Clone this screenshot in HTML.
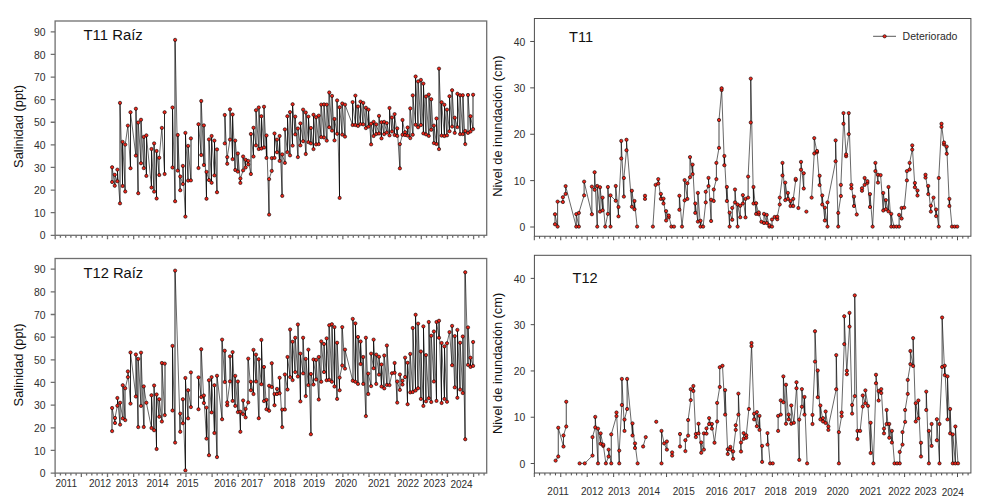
<!DOCTYPE html>
<html lang="es">
<head>
<meta charset="utf-8">
<title>Salinidad y nivel de inundación T11 / T12</title>
<style>
html,body{margin:0;padding:0;background:#fff;}
body{width:1000px;height:499px;overflow:hidden;font-family:"Liberation Sans", sans-serif;}
svg{display:block;}
text{font-family:"Liberation Sans", sans-serif;}
.tl{font-size:10px;fill:#2e2e2e;}
.yt{font-size:10.4px;fill:#2e2e2e;}
.tt{font-size:15.5px;fill:#111;}
.yl{font-size:12.85px;fill:#111;}
.dl{fill:none;stroke:#111;stroke-width:0.7;}
.dg{fill:none;stroke:#0a0a0a;stroke-width:0.62;stroke-linecap:round;}
.vl{fill:none;stroke:#000;stroke-width:0.85;}
.vr{fill:none;stroke:#000;stroke-width:0.72;}
.mk circle{fill:#f0261a;stroke:#000;stroke-width:0.6;}
</style>
</head>
<body>
<svg width="1000" height="499" viewBox="0 0 1000 499">
<rect width="1000" height="499" fill="#fff"/>
<g id="tl">
<path class="dg" d="M112.12 167.25L114.75 185.75M114.75 174.75L117.38 181.25M117.38 169.62L120 203.38M120 102.88L122.62 186M122.62 141.88L125.25 191.5M125.25 144.62L127.88 125.62M127.88 125.62L130.5 168.25M130.5 112.25L135.88 155.62M135.88 108.75L138.25 193.25M138.25 122.5L141 163.25M141 119.75L143.75 168.12M143.75 136.88L146.38 175.88M146.38 135.38L151.5 187.5M151.5 149L154.12 191.62M154.12 143.38L156.62 198.5M156.62 151L159.25 175M159.25 157.75L161.88 127.88M161.88 127.88L164.62 174M172.5 107.5L175.12 201.25M175.12 39.88L177.75 170.62M177.75 135L180.25 190.25M180.25 176.5L182.88 184M182.88 165.88L185.38 216.62M185.38 132.88L188.12 180.62M188.12 145.88L190.88 180.38M198.5 124.25L201.25 155M201.25 101L203.88 165M203.88 125.38L206.5 198.75M206.5 171.88L209 180M209 139.38L211.62 182.75M211.62 136L214.38 175.38M214.38 140.62L217 192.25M224.75 115L227.25 163.75M227.25 157.12L230 139.62M230 109.38L232.62 159.12M232.62 114.5L235.25 170M235.25 140.62L237.88 171.62M237.88 153.5L240.38 182.88M240.38 178.5L243.12 170.38M243.12 156.5L245.62 167.5M245.62 159.75L248.25 164.38M248.25 160.88L250.88 174M250.88 134L253.5 156.5M253.5 127.75L256 145.38M256 110.25L258.75 149M258.75 107.5L261.38 148.5M261.38 116.25L264 147.5M264 106.75L266.5 157.88M266.5 135.5L269.12 214.62M269.12 179.12L271.75 170.88M271.75 158.12L274.5 157.88M274.5 133.5L277 152.25M277 139.62L279.62 160.88M279.62 136L282.25 195.88M282.25 154.38L284.88 162.88M284.88 129.38L287.38 152.12M287.38 116.25L290 155.38M290 112.12L292.62 145.62M292.62 104.25L295.25 134.38M295.25 116.62L297.88 157.12M297.88 128.5L300.38 145.38M300.38 123.38L303.12 141.25M303.12 109.62L305.75 154M305.75 112.5L308.38 142.12M308.38 116.62L310.88 143.38M310.88 128L313.5 149.12M313.5 114.75L316.12 144.38M316.12 117.25L318.75 144.12M318.75 115.62L321.25 137.12M321.25 104.62L324 137.5M324 104.38L326.75 140.62M326.75 104.62L329.25 127.25M329.25 92.5L332 130.62M332 95.88L334.5 140.38M334.5 119L337.12 133.75M337.12 100.38L339.62 197.88M339.62 107.25L342.25 134.62M342.25 103.5L345 136.62M345 104.62L352.62 125M352.62 102.12L355.38 125M355.38 95.62L358 125.88M358 106.5L360.5 124.12M360.5 101.62L363.25 124.38M363.25 102.88L365.88 128.12M365.88 107.75L368.5 126.62M368.5 109.62L371.12 144.38M371.12 123.75L373.62 136M373.62 121.88L376.25 134M376.25 124.38L379 133.5M379 115.88L381.5 138.38M381.5 122.25L384.12 134.12M384.12 121.88L386.75 132.5M386.75 123.12L389.5 135.38M389.5 108L392 131.5M392 117.5L394.62 135M394.62 114.12L397.25 135.88M397.25 128.38L399.88 168.38M399.88 144.12L402.5 134.75M402.5 120L405.12 135M405.12 132.12L407.62 135.62M407.62 127.5L410.25 138.12M410.25 108.38L412.75 134.75M412.75 95.38L415.62 124.75M415.62 76.5L418.12 127.25M418.12 81.38L420.88 125M420.88 79.88L423.38 133.38M423.38 83.62L426 134.38M426 96.5L428.75 135.88M428.75 94.62L431.25 129.75M431.25 99.25L433.88 143.12M433.88 125.62L436.5 144M436.5 118.5L439 149.12M439 68.62L441.62 135.62M441.62 102.25L444.38 136M444.38 104.75L447 135.38M447 109.62L449.5 131.25M449.5 96.25L452.12 126.62M452.12 90.25L454.75 132.88M454.75 117.75L457.38 127.12M457.38 93.75L460.12 134.12M460.12 95.25L462.75 134.12M462.75 95.25L465.25 144.12M465.25 131L468 132.88M468 95L470.5 131.5M470.5 116.25L473.12 129.12"/>
<path class="vl" d="M112 182V167.25M115 185.75V174.75M117.5 181.25V169.62M120 203.38V102.88M122.5 186V141.88M125 191.5V144.62M130.5 168.25V112.25M136 155.62V108.75M138 193.25V122.5M141 163.25V119.75M144 168.12V136.88M146.5 175.88V135.38M151.5 187.5V149M154 191.62V143.38M156.5 198.5V151M159 175V157.75M164.5 174V112.25M172.5 167.5V107.5M175 201.25V39.88M178 170.62V135M180 190.25V176.5M183 184V165.88M185.5 216.62V132.88M188 180.62V145.88M191 180.38V138.38M198.5 168V124.25M201 155V101M204 165V125.38M206.5 198.75V171.88M209 180V139.38M211.5 182.75V136M214.5 175.38V140.62M217 192.25V149.38M225 143.38V115M227 163.75V157.12M230 139.62V109.38M232.5 159.12V114.5M235 170V140.62M238 171.62V153.5M240.5 182.88V178.5M243 170.38V156.5M245.5 167.5V159.75M248 164.38V160.88M251 174V134M253.5 156.5V127.75M256 145.38V110.25M259 149V107.5M261.5 148.5V116.25M264 147.5V106.75M266.5 157.88V135.5M269 214.62V179.12M272 170.88V158.12M274.5 157.88V133.5M277 152.25V139.62M279.5 160.88V136M282 195.88V154.38M285 162.88V129.38M287.5 152.12V116.25M290 155.38V112.12M292.5 145.62V104.25M295 134.38V116.62M298 157.12V128.5M300.5 145.38V123.38M303 141.25V109.62M306 154V112.5M308.5 142.12V116.62M311 143.38V128M313.5 149.12V114.75M316 144.38V117.25M319 144.12V115.62M321 137.12V104.62M324 137.5V104.38M327 140.62V104.62M329 127.25V92.5M332 130.62V95.88M334.5 140.38V119M337 133.75V100.38M339.5 197.88V107.25M342 134.62V103.5M345 136.62V104.62M352.5 125V102.12M355.5 125V95.62M358 125.88V106.5M360.5 124.12V101.62M363 124.38V102.88M366 128.12V107.75M368.5 126.62V109.62M371 144.38V123.75M373.5 136V121.88M376 134V124.38M379 133.5V115.88M381.5 138.38V122.25M384 134.12V121.88M387 132.5V123.12M389.5 135.38V108M392 131.5V117.5M394.5 135V114.12M397 135.88V128.38M400 168.38V144.12M402.5 134.75V120M405 135V132.12M407.5 135.62V127.5M410 138.12V108.38M413 134.75V95.38M415.5 124.75V76.5M418 127.25V81.38M421 125V79.88M423.5 133.38V83.62M426 134.38V96.5M429 135.88V94.62M431 129.75V99.25M434 143.12V125.62M436.5 144V118.5M439 149.12V68.62M441.5 135.62V102.25M444.5 136V104.75M447 135.38V109.62M449.5 131.25V96.25M452 126.62V90.25M455 132.88V117.75M457.5 127.12V93.75M460 134.12V95.25M463 134.12V95.25M465 144.12V131M468 132.88V95M470.5 131.5V116.25M473 129.12V94.75"/>
<g class="mk"><circle cx="112.12" cy="182" r="1.65"/><circle cx="112.12" cy="167.25" r="1.65"/><circle cx="114.75" cy="185.75" r="1.65"/><circle cx="114.75" cy="174.75" r="1.65"/><circle cx="117.38" cy="181.25" r="1.65"/><circle cx="117.38" cy="169.62" r="1.65"/><circle cx="120" cy="203.38" r="1.65"/><circle cx="120" cy="102.88" r="1.65"/><circle cx="122.62" cy="186" r="1.65"/><circle cx="122.62" cy="141.88" r="1.65"/><circle cx="125.25" cy="191.5" r="1.65"/><circle cx="125.25" cy="144.62" r="1.65"/><circle cx="127.88" cy="125.62" r="1.65"/><circle cx="130.5" cy="168.25" r="1.65"/><circle cx="130.5" cy="112.25" r="1.65"/><circle cx="135.88" cy="155.62" r="1.65"/><circle cx="135.88" cy="108.75" r="1.65"/><circle cx="138.25" cy="193.25" r="1.65"/><circle cx="138.25" cy="122.5" r="1.65"/><circle cx="141" cy="163.25" r="1.65"/><circle cx="141" cy="119.75" r="1.65"/><circle cx="143.75" cy="168.12" r="1.65"/><circle cx="143.75" cy="136.88" r="1.65"/><circle cx="146.38" cy="175.88" r="1.65"/><circle cx="146.38" cy="135.38" r="1.65"/><circle cx="151.5" cy="187.5" r="1.65"/><circle cx="151.5" cy="149" r="1.65"/><circle cx="154.12" cy="191.62" r="1.65"/><circle cx="154.12" cy="143.38" r="1.65"/><circle cx="156.62" cy="198.5" r="1.65"/><circle cx="156.62" cy="151" r="1.65"/><circle cx="159.25" cy="175" r="1.65"/><circle cx="159.25" cy="157.75" r="1.65"/><circle cx="161.88" cy="127.88" r="1.65"/><circle cx="164.62" cy="174" r="1.65"/><circle cx="164.62" cy="112.25" r="1.65"/><circle cx="172.5" cy="167.5" r="1.65"/><circle cx="172.5" cy="107.5" r="1.65"/><circle cx="175.12" cy="201.25" r="1.65"/><circle cx="175.12" cy="39.88" r="1.65"/><circle cx="177.75" cy="170.62" r="1.65"/><circle cx="177.75" cy="135" r="1.65"/><circle cx="180.25" cy="190.25" r="1.65"/><circle cx="180.25" cy="176.5" r="1.65"/><circle cx="182.88" cy="184" r="1.65"/><circle cx="182.88" cy="165.88" r="1.65"/><circle cx="185.38" cy="216.62" r="1.65"/><circle cx="185.38" cy="132.88" r="1.65"/><circle cx="188.12" cy="180.62" r="1.65"/><circle cx="188.12" cy="145.88" r="1.65"/><circle cx="190.88" cy="180.38" r="1.65"/><circle cx="190.88" cy="138.38" r="1.65"/><circle cx="198.5" cy="168" r="1.65"/><circle cx="198.5" cy="124.25" r="1.65"/><circle cx="201.25" cy="155" r="1.65"/><circle cx="201.25" cy="101" r="1.65"/><circle cx="203.88" cy="165" r="1.65"/><circle cx="203.88" cy="125.38" r="1.65"/><circle cx="206.5" cy="198.75" r="1.65"/><circle cx="206.5" cy="171.88" r="1.65"/><circle cx="209" cy="180" r="1.65"/><circle cx="209" cy="139.38" r="1.65"/><circle cx="211.62" cy="182.75" r="1.65"/><circle cx="211.62" cy="136" r="1.65"/><circle cx="214.38" cy="175.38" r="1.65"/><circle cx="214.38" cy="140.62" r="1.65"/><circle cx="217" cy="192.25" r="1.65"/><circle cx="217" cy="149.38" r="1.65"/><circle cx="224.75" cy="143.38" r="1.65"/><circle cx="224.75" cy="115" r="1.65"/><circle cx="227.25" cy="163.75" r="1.65"/><circle cx="227.25" cy="157.12" r="1.65"/><circle cx="230" cy="139.62" r="1.65"/><circle cx="230" cy="109.38" r="1.65"/><circle cx="232.62" cy="159.12" r="1.65"/><circle cx="232.62" cy="114.5" r="1.65"/><circle cx="235.25" cy="170" r="1.65"/><circle cx="235.25" cy="140.62" r="1.65"/><circle cx="237.88" cy="171.62" r="1.65"/><circle cx="237.88" cy="153.5" r="1.65"/><circle cx="240.38" cy="182.88" r="1.65"/><circle cx="240.38" cy="178.5" r="1.65"/><circle cx="243.12" cy="170.38" r="1.65"/><circle cx="243.12" cy="156.5" r="1.65"/><circle cx="245.62" cy="167.5" r="1.65"/><circle cx="245.62" cy="159.75" r="1.65"/><circle cx="248.25" cy="164.38" r="1.65"/><circle cx="248.25" cy="160.88" r="1.65"/><circle cx="250.88" cy="174" r="1.65"/><circle cx="250.88" cy="134" r="1.65"/><circle cx="253.5" cy="156.5" r="1.65"/><circle cx="253.5" cy="127.75" r="1.65"/><circle cx="256" cy="145.38" r="1.65"/><circle cx="256" cy="110.25" r="1.65"/><circle cx="258.75" cy="149" r="1.65"/><circle cx="258.75" cy="107.5" r="1.65"/><circle cx="261.38" cy="148.5" r="1.65"/><circle cx="261.38" cy="116.25" r="1.65"/><circle cx="264" cy="147.5" r="1.65"/><circle cx="264" cy="106.75" r="1.65"/><circle cx="266.5" cy="157.88" r="1.65"/><circle cx="266.5" cy="135.5" r="1.65"/><circle cx="269.12" cy="214.62" r="1.65"/><circle cx="269.12" cy="179.12" r="1.65"/><circle cx="271.75" cy="170.88" r="1.65"/><circle cx="271.75" cy="158.12" r="1.65"/><circle cx="274.5" cy="157.88" r="1.65"/><circle cx="274.5" cy="133.5" r="1.65"/><circle cx="277" cy="152.25" r="1.65"/><circle cx="277" cy="139.62" r="1.65"/><circle cx="279.62" cy="160.88" r="1.65"/><circle cx="279.62" cy="136" r="1.65"/><circle cx="282.25" cy="195.88" r="1.65"/><circle cx="282.25" cy="154.38" r="1.65"/><circle cx="284.88" cy="162.88" r="1.65"/><circle cx="284.88" cy="129.38" r="1.65"/><circle cx="287.38" cy="152.12" r="1.65"/><circle cx="287.38" cy="116.25" r="1.65"/><circle cx="290" cy="155.38" r="1.65"/><circle cx="290" cy="112.12" r="1.65"/><circle cx="292.62" cy="145.62" r="1.65"/><circle cx="292.62" cy="104.25" r="1.65"/><circle cx="295.25" cy="134.38" r="1.65"/><circle cx="295.25" cy="116.62" r="1.65"/><circle cx="297.88" cy="157.12" r="1.65"/><circle cx="297.88" cy="128.5" r="1.65"/><circle cx="300.38" cy="145.38" r="1.65"/><circle cx="300.38" cy="123.38" r="1.65"/><circle cx="303.12" cy="141.25" r="1.65"/><circle cx="303.12" cy="109.62" r="1.65"/><circle cx="305.75" cy="154" r="1.65"/><circle cx="305.75" cy="112.5" r="1.65"/><circle cx="308.38" cy="142.12" r="1.65"/><circle cx="308.38" cy="116.62" r="1.65"/><circle cx="310.88" cy="143.38" r="1.65"/><circle cx="310.88" cy="128" r="1.65"/><circle cx="313.5" cy="149.12" r="1.65"/><circle cx="313.5" cy="114.75" r="1.65"/><circle cx="316.12" cy="144.38" r="1.65"/><circle cx="316.12" cy="117.25" r="1.65"/><circle cx="318.75" cy="144.12" r="1.65"/><circle cx="318.75" cy="115.62" r="1.65"/><circle cx="321.25" cy="137.12" r="1.65"/><circle cx="321.25" cy="104.62" r="1.65"/><circle cx="324" cy="137.5" r="1.65"/><circle cx="324" cy="104.38" r="1.65"/><circle cx="326.75" cy="140.62" r="1.65"/><circle cx="326.75" cy="104.62" r="1.65"/><circle cx="329.25" cy="127.25" r="1.65"/><circle cx="329.25" cy="92.5" r="1.65"/><circle cx="332" cy="130.62" r="1.65"/><circle cx="332" cy="95.88" r="1.65"/><circle cx="334.5" cy="140.38" r="1.65"/><circle cx="334.5" cy="119" r="1.65"/><circle cx="337.12" cy="133.75" r="1.65"/><circle cx="337.12" cy="100.38" r="1.65"/><circle cx="339.62" cy="197.88" r="1.65"/><circle cx="339.62" cy="107.25" r="1.65"/><circle cx="342.25" cy="134.62" r="1.65"/><circle cx="342.25" cy="103.5" r="1.65"/><circle cx="345" cy="136.62" r="1.65"/><circle cx="345" cy="104.62" r="1.65"/><circle cx="352.62" cy="125" r="1.65"/><circle cx="352.62" cy="102.12" r="1.65"/><circle cx="355.38" cy="125" r="1.65"/><circle cx="355.38" cy="95.62" r="1.65"/><circle cx="358" cy="125.88" r="1.65"/><circle cx="358" cy="106.5" r="1.65"/><circle cx="360.5" cy="124.12" r="1.65"/><circle cx="360.5" cy="101.62" r="1.65"/><circle cx="363.25" cy="124.38" r="1.65"/><circle cx="363.25" cy="102.88" r="1.65"/><circle cx="365.88" cy="128.12" r="1.65"/><circle cx="365.88" cy="107.75" r="1.65"/><circle cx="368.5" cy="126.62" r="1.65"/><circle cx="368.5" cy="109.62" r="1.65"/><circle cx="371.12" cy="144.38" r="1.65"/><circle cx="371.12" cy="123.75" r="1.65"/><circle cx="373.62" cy="136" r="1.65"/><circle cx="373.62" cy="121.88" r="1.65"/><circle cx="376.25" cy="134" r="1.65"/><circle cx="376.25" cy="124.38" r="1.65"/><circle cx="379" cy="133.5" r="1.65"/><circle cx="379" cy="115.88" r="1.65"/><circle cx="381.5" cy="138.38" r="1.65"/><circle cx="381.5" cy="122.25" r="1.65"/><circle cx="384.12" cy="134.12" r="1.65"/><circle cx="384.12" cy="121.88" r="1.65"/><circle cx="386.75" cy="132.5" r="1.65"/><circle cx="386.75" cy="123.12" r="1.65"/><circle cx="389.5" cy="135.38" r="1.65"/><circle cx="389.5" cy="108" r="1.65"/><circle cx="392" cy="131.5" r="1.65"/><circle cx="392" cy="117.5" r="1.65"/><circle cx="394.62" cy="135" r="1.65"/><circle cx="394.62" cy="114.12" r="1.65"/><circle cx="397.25" cy="135.88" r="1.65"/><circle cx="397.25" cy="128.38" r="1.65"/><circle cx="399.88" cy="168.38" r="1.65"/><circle cx="399.88" cy="144.12" r="1.65"/><circle cx="402.5" cy="134.75" r="1.65"/><circle cx="402.5" cy="120" r="1.65"/><circle cx="405.12" cy="135" r="1.65"/><circle cx="405.12" cy="132.12" r="1.65"/><circle cx="407.62" cy="135.62" r="1.65"/><circle cx="407.62" cy="127.5" r="1.65"/><circle cx="410.25" cy="138.12" r="1.65"/><circle cx="410.25" cy="108.38" r="1.65"/><circle cx="412.75" cy="134.75" r="1.65"/><circle cx="412.75" cy="95.38" r="1.65"/><circle cx="415.62" cy="124.75" r="1.65"/><circle cx="415.62" cy="76.5" r="1.65"/><circle cx="418.12" cy="127.25" r="1.65"/><circle cx="418.12" cy="81.38" r="1.65"/><circle cx="420.88" cy="125" r="1.65"/><circle cx="420.88" cy="79.88" r="1.65"/><circle cx="423.38" cy="133.38" r="1.65"/><circle cx="423.38" cy="83.62" r="1.65"/><circle cx="426" cy="134.38" r="1.65"/><circle cx="426" cy="96.5" r="1.65"/><circle cx="428.75" cy="135.88" r="1.65"/><circle cx="428.75" cy="94.62" r="1.65"/><circle cx="431.25" cy="129.75" r="1.65"/><circle cx="431.25" cy="99.25" r="1.65"/><circle cx="433.88" cy="143.12" r="1.65"/><circle cx="433.88" cy="125.62" r="1.65"/><circle cx="436.5" cy="144" r="1.65"/><circle cx="436.5" cy="118.5" r="1.65"/><circle cx="439" cy="149.12" r="1.65"/><circle cx="439" cy="68.62" r="1.65"/><circle cx="441.62" cy="135.62" r="1.65"/><circle cx="441.62" cy="102.25" r="1.65"/><circle cx="444.38" cy="136" r="1.65"/><circle cx="444.38" cy="104.75" r="1.65"/><circle cx="447" cy="135.38" r="1.65"/><circle cx="447" cy="109.62" r="1.65"/><circle cx="449.5" cy="131.25" r="1.65"/><circle cx="449.5" cy="96.25" r="1.65"/><circle cx="452.12" cy="126.62" r="1.65"/><circle cx="452.12" cy="90.25" r="1.65"/><circle cx="454.75" cy="132.88" r="1.65"/><circle cx="454.75" cy="117.75" r="1.65"/><circle cx="457.38" cy="127.12" r="1.65"/><circle cx="457.38" cy="93.75" r="1.65"/><circle cx="460.12" cy="134.12" r="1.65"/><circle cx="460.12" cy="95.25" r="1.65"/><circle cx="462.75" cy="134.12" r="1.65"/><circle cx="462.75" cy="95.25" r="1.65"/><circle cx="465.25" cy="144.12" r="1.65"/><circle cx="465.25" cy="131" r="1.65"/><circle cx="468" cy="132.88" r="1.65"/><circle cx="468" cy="95" r="1.65"/><circle cx="470.5" cy="131.5" r="1.65"/><circle cx="470.5" cy="116.25" r="1.65"/><circle cx="473.12" cy="129.12" r="1.65"/><circle cx="473.12" cy="94.75" r="1.65"/></g>
<rect x="55.1" y="21" width="431.6" height="214.3" fill="none" stroke="#6f6f6f" stroke-width="1.3"/>
<text class="yt" x="45.6" y="239.45" text-anchor="end">0</text>
<text class="yt" x="45.6" y="216.84" text-anchor="end">10</text>
<text class="yt" x="45.6" y="194.23" text-anchor="end">20</text>
<text class="yt" x="45.6" y="171.62" text-anchor="end">30</text>
<text class="yt" x="45.6" y="149.01" text-anchor="end">40</text>
<text class="yt" x="45.6" y="126.4" text-anchor="end">50</text>
<text class="yt" x="45.6" y="103.79" text-anchor="end">60</text>
<text class="yt" x="45.6" y="81.18" text-anchor="end">70</text>
<text class="yt" x="45.6" y="58.57" text-anchor="end">80</text>
<text class="yt" x="45.6" y="35.96" text-anchor="end">90</text>
<path d="M50.7 235.3H55.1M50.7 212.69H55.1M50.7 190.08H55.1M50.7 167.47H55.1M50.7 144.86H55.1M50.7 122.25H55.1M50.7 99.64H55.1M50.7 77.03H55.1M50.7 54.42H55.1M50.7 31.81H55.1M55.2 235.3V239.3M60.43 235.3V237.7M65.66 235.3V237.7M70.89 235.3V237.7M76.12 235.3V237.7M81.35 235.3V239.3M86.58 235.3V237.7M91.81 235.3V237.7M97.04 235.3V237.7M102.27 235.3V237.7M107.5 235.3V239.3M112.73 235.3V237.7M117.96 235.3V237.7M123.19 235.3V237.7M128.42 235.3V237.7M133.65 235.3V239.3M138.88 235.3V237.7M144.11 235.3V237.7M149.34 235.3V237.7M154.57 235.3V237.7M159.8 235.3V239.3M165.03 235.3V237.7M170.26 235.3V237.7M175.49 235.3V237.7M180.72 235.3V237.7M185.95 235.3V239.3M191.18 235.3V237.7M196.41 235.3V237.7M201.64 235.3V237.7M206.87 235.3V237.7M212.1 235.3V239.3M217.33 235.3V237.7M222.56 235.3V237.7M227.79 235.3V237.7M233.02 235.3V237.7M238.25 235.3V239.3M243.48 235.3V237.7M248.71 235.3V237.7M253.94 235.3V237.7M259.17 235.3V237.7M264.4 235.3V239.3M269.63 235.3V237.7M274.86 235.3V237.7M280.09 235.3V237.7M285.32 235.3V237.7M290.55 235.3V239.3M295.78 235.3V237.7M301.01 235.3V237.7M306.24 235.3V237.7M311.47 235.3V237.7M316.7 235.3V239.3M321.93 235.3V237.7M327.16 235.3V237.7M332.39 235.3V237.7M337.62 235.3V237.7M342.85 235.3V239.3M348.08 235.3V237.7M353.31 235.3V237.7M358.54 235.3V237.7M363.77 235.3V237.7M369 235.3V239.3M374.23 235.3V237.7M379.46 235.3V237.7M384.69 235.3V237.7M389.92 235.3V237.7M395.15 235.3V239.3M400.38 235.3V237.7M405.61 235.3V237.7M410.84 235.3V237.7M416.07 235.3V237.7M421.3 235.3V239.3M426.53 235.3V237.7M431.76 235.3V237.7M436.99 235.3V237.7M442.22 235.3V237.7M447.45 235.3V239.3M452.68 235.3V237.7M457.91 235.3V237.7M463.14 235.3V237.7M468.37 235.3V237.7M473.6 235.3V239.3M478.83 235.3V237.7M484.06 235.3V237.7" stroke="#6f6f6f" stroke-width="1.3" fill="none"/>
<text class="tt" transform="translate(83.5,40.2) scale(0.96,1)">T11 Raíz</text>
<text class="yl" transform="translate(23.3,126.5) rotate(-90)" text-anchor="middle">Salinidad (ppt)</text>
</g>
<g id="bl">
<path class="dg" d="M112.12 408L115 423M115 418L117.38 405.75M117.38 398L120.12 424.62M120.12 402.75L122.75 418.38M122.75 385.25L125.25 420.12M125.25 388.25L127.88 377.12M127.88 371.38L130.5 403.62M130.5 352.5L135.88 396.5M135.88 354.5L138.25 427.12M138.25 358.88L141 405.88M141 352.62L143.75 427M143.75 386.38L146.38 402.75M146.38 402.75L151.5 428M151.5 395.25L154.12 430.25M154.12 385.5L156.62 449M156.62 394.5L159.25 416.75M159.25 399.25L161.88 421.5M161.88 363L164.75 415.12M172.5 345.88L175.12 442.62M175.12 270.62L180.25 431.75M180.25 413.62L182.88 423.25M182.88 399.25L185.38 470.38M185.38 378L188.12 418.38M188.12 390.25L190.88 407.12M198.5 377.38L201.25 397M201.25 349.25L203.88 403M203.88 395.5L206.5 438.62M206.5 407.62L209 455.25M209 380.25L211.62 412.38M211.62 377.12L214.38 433M214.38 385.25L217 457.12M217 375.75L222.12 419.25M222.12 339.62L224.75 382M224.75 350.75L227.25 405.25M227.25 402.38L230 381.38M230 356.38L232.62 400.88M232.62 352.12L235.25 405.88M235.25 375.88L237.88 412.12M237.88 381.5L240.38 431.75M240.38 411.75L243.12 414.25M243.12 400.5L245.62 417.38M245.62 408.88L248.25 402.38M248.25 358.62L250.88 390.25M250.88 381.75L253.5 394M253.5 349.88L256 381.5M256 354.62L258.75 418.25M258.75 359.25L261.38 384.25M261.38 339.88L264 401.12M264 367L266.5 409.25M266.5 399.88L269.12 410.75M269.12 385.75L271.75 387M271.75 363.25L274.5 405.25M274.5 394L277 394M277 388.88L279.62 393.25M279.62 377.75L282.25 427.12M282.25 409.62L284.88 409.5M284.88 374.5L287.5 389.5M287.5 357L290.12 377.12M290.12 329.5L292.62 380.12M292.62 341.75L295.25 372.12M295.25 337.75L297.88 376.5M297.88 324.5L300.38 401.38M300.38 353.62L303.12 373.38M303.12 337.75L305.75 396.12M305.75 358.88L308.38 385.12M308.38 349.62L310.88 434.25M310.88 374L313.5 384.5M313.5 359.5L316.12 379.5M316.12 359.88L318.75 399.5M318.75 357L321.25 381.75M321.25 341.38L324 372M324 344L326.62 380.25M326.62 338.38L329.25 379.88M329.25 325.25L331.88 381.75M331.88 324.25L334.5 386.5M334.5 327.12L337.12 398.88M337.12 342.75L339.62 390.25M339.62 377.62L342.25 365.5M342.25 327.12L345 368.62M345 349.62L352.75 380.75M352.75 318.88L355.38 381.75M355.38 323.38L358 383.88M358 337L360.62 364M360.62 341.5L363.25 383.88M363.25 357L365.88 416.12M365.88 337.75L368.25 394M368.25 373.62L371.12 386.12M371.12 353.62L373.62 368.25M373.62 339.62L376.25 383.88M376.25 354.62L379 374.62M379 356.75L381.5 386.5M381.5 364.5L384.25 388.38M384.25 355.5L386.88 384.88M386.88 345.5L389.5 385.12M389.5 385.12L392 373.25M392 373.25L394.62 372.75M394.62 363L397.25 402.62M397.25 381.5L399.88 389.88M399.88 374.5L402.5 384.5M402.5 380.75L405.12 377M405.12 357.62L407.62 404.25M407.62 362.75L410.25 392.38M410.25 353.88L412.75 392M412.75 328L415.62 390.5M415.62 314.75L418.12 388.25M418.12 323.62L420.88 398.88M420.88 351.5L423.38 405.88M423.38 326.38L426 401.38M426 355.12L428.75 398.25M428.75 322L431.25 402M431.25 335.75L433.88 381.5M433.88 331.5L436.5 400.88M436.5 322L439 337.75M439 320.75L441.62 403M441.62 343L444.38 398.88M444.38 346.38L447 401.75M447 343.25L449.5 332.12M449.5 332.12L452.12 365.25M452.12 325.88L454.75 387.38M454.75 336.12L457.38 397.75M457.38 329.88L460.12 389.5M460.12 342.75L462.75 393M462.75 336.5L465.25 439.25M465.25 272.25L468 364.88M468 327.38L470.5 366.88M470.5 357.75L473.12 365.88"/>
<path class="vl" d="M112 431.12V408M115 423V418M117.5 405.75V398M120 424.62V402.75M123 418.38V385.25M125 420.12V388.25M128 377.12V371.38M130.5 403.62V352.5M136 396.5V354.5M138 427.12V358.88M141 405.88V352.62M144 427V386.38M151.5 428V395.25M154 430.25V385.5M156.5 449V394.5M159 416.75V399.25M162 421.5V363M165 415.12V363.62M172.5 410.5V345.88M175 442.62V270.62M180 431.75V413.62M183 423.25V399.25M185.5 470.38V378M188 418.38V390.25M191 407.12V372.38M198.5 409.25V377.38M201 397V349.25M204 403V395.5M206.5 438.62V407.62M209 455.25V380.25M211.5 412.38V377.12M214.5 433V385.25M217 457.12V375.75M222 419.25V339.62M225 382V350.75M227 405.25V402.38M230 381.38V356.38M232.5 400.88V352.12M235 405.88V375.88M238 412.12V381.5M240.5 431.75V411.75M243 414.25V400.5M245.5 417.38V408.88M248 402.38V358.62M251 390.25V381.75M253.5 394V349.88M256 381.5V354.62M259 418.25V359.25M261.5 384.25V339.88M264 401.12V367M266.5 409.25V399.88M269 410.75V385.75M272 387V363.25M274.5 405.25V394M277 394V388.88M279.5 393.25V377.75M282 427.12V409.62M285 409.5V374.5M287.5 389.5V357M290 377.12V329.5M292.5 380.12V341.75M295 372.12V337.75M298 376.5V324.5M300.5 401.38V353.62M303 373.38V337.75M306 396.12V358.88M308.5 385.12V349.62M311 434.25V374M313.5 384.5V359.5M316 379.5V359.88M319 399.5V357M321 381.75V341.38M324 372V344M326.5 380.25V338.38M329 379.88V325.25M332 381.75V324.25M334.5 386.5V327.12M337 398.88V342.75M339.5 390.25V377.62M342 365.5V327.12M345 368.62V349.62M353 380.75V318.88M355.5 381.75V323.38M358 383.88V337M360.5 364V341.5M363 383.88V357M366 416.12V337.75M368 394V373.62M371 386.12V353.62M373.5 368.25V339.62M376 383.88V354.62M379 374.62V356.75M381.5 386.5V364.5M384 388.38V355.5M387 384.88V345.5M394.5 372.75V363M397 402.62V381.5M400 389.88V374.5M402.5 384.5V380.75M405 377V357.62M407.5 404.25V362.75M410 392.38V353.88M413 392V328M415.5 390.5V314.75M418 388.25V323.62M421 398.88V351.5M423.5 405.88V326.38M426 401.38V355.12M429 398.25V322M431 402V335.75M434 381.5V331.5M436.5 400.88V322M439 337.75V320.75M441.5 403V343M444.5 398.88V346.38M447 401.75V343.25M452 365.25V325.88M455 387.38V336.12M457.5 397.75V329.88M460 389.5V342.75M463 393V336.5M465 439.25V272.25M468 364.88V327.38M470.5 366.88V357.75M473 365.88V342"/>
<g class="mk"><circle cx="112.12" cy="431.12" r="1.65"/><circle cx="112.12" cy="408" r="1.65"/><circle cx="115" cy="423" r="1.65"/><circle cx="115" cy="418" r="1.65"/><circle cx="117.38" cy="405.75" r="1.65"/><circle cx="117.38" cy="398" r="1.65"/><circle cx="120.12" cy="424.62" r="1.65"/><circle cx="120.12" cy="402.75" r="1.65"/><circle cx="122.75" cy="418.38" r="1.65"/><circle cx="122.75" cy="385.25" r="1.65"/><circle cx="125.25" cy="420.12" r="1.65"/><circle cx="125.25" cy="388.25" r="1.65"/><circle cx="127.88" cy="377.12" r="1.65"/><circle cx="127.88" cy="371.38" r="1.65"/><circle cx="130.5" cy="403.62" r="1.65"/><circle cx="130.5" cy="352.5" r="1.65"/><circle cx="135.88" cy="396.5" r="1.65"/><circle cx="135.88" cy="354.5" r="1.65"/><circle cx="138.25" cy="427.12" r="1.65"/><circle cx="138.25" cy="358.88" r="1.65"/><circle cx="141" cy="405.88" r="1.65"/><circle cx="141" cy="352.62" r="1.65"/><circle cx="143.75" cy="427" r="1.65"/><circle cx="143.75" cy="386.38" r="1.65"/><circle cx="146.38" cy="402.75" r="1.65"/><circle cx="151.5" cy="428" r="1.65"/><circle cx="151.5" cy="395.25" r="1.65"/><circle cx="154.12" cy="430.25" r="1.65"/><circle cx="154.12" cy="385.5" r="1.65"/><circle cx="156.62" cy="449" r="1.65"/><circle cx="156.62" cy="394.5" r="1.65"/><circle cx="159.25" cy="416.75" r="1.65"/><circle cx="159.25" cy="399.25" r="1.65"/><circle cx="161.88" cy="421.5" r="1.65"/><circle cx="161.88" cy="363" r="1.65"/><circle cx="164.75" cy="415.12" r="1.65"/><circle cx="164.75" cy="363.62" r="1.65"/><circle cx="172.5" cy="410.5" r="1.65"/><circle cx="172.5" cy="345.88" r="1.65"/><circle cx="175.12" cy="442.62" r="1.65"/><circle cx="175.12" cy="270.62" r="1.65"/><circle cx="180.25" cy="431.75" r="1.65"/><circle cx="180.25" cy="413.62" r="1.65"/><circle cx="182.88" cy="423.25" r="1.65"/><circle cx="182.88" cy="399.25" r="1.65"/><circle cx="185.38" cy="470.38" r="1.65"/><circle cx="185.38" cy="378" r="1.65"/><circle cx="188.12" cy="418.38" r="1.65"/><circle cx="188.12" cy="390.25" r="1.65"/><circle cx="190.88" cy="407.12" r="1.65"/><circle cx="190.88" cy="372.38" r="1.65"/><circle cx="198.5" cy="409.25" r="1.65"/><circle cx="198.5" cy="377.38" r="1.65"/><circle cx="201.25" cy="397" r="1.65"/><circle cx="201.25" cy="349.25" r="1.65"/><circle cx="203.88" cy="403" r="1.65"/><circle cx="203.88" cy="395.5" r="1.65"/><circle cx="206.5" cy="438.62" r="1.65"/><circle cx="206.5" cy="407.62" r="1.65"/><circle cx="209" cy="455.25" r="1.65"/><circle cx="209" cy="380.25" r="1.65"/><circle cx="211.62" cy="412.38" r="1.65"/><circle cx="211.62" cy="377.12" r="1.65"/><circle cx="214.38" cy="433" r="1.65"/><circle cx="214.38" cy="385.25" r="1.65"/><circle cx="217" cy="457.12" r="1.65"/><circle cx="217" cy="375.75" r="1.65"/><circle cx="222.12" cy="419.25" r="1.65"/><circle cx="222.12" cy="339.62" r="1.65"/><circle cx="224.75" cy="382" r="1.65"/><circle cx="224.75" cy="350.75" r="1.65"/><circle cx="227.25" cy="405.25" r="1.65"/><circle cx="227.25" cy="402.38" r="1.65"/><circle cx="230" cy="381.38" r="1.65"/><circle cx="230" cy="356.38" r="1.65"/><circle cx="232.62" cy="400.88" r="1.65"/><circle cx="232.62" cy="352.12" r="1.65"/><circle cx="235.25" cy="405.88" r="1.65"/><circle cx="235.25" cy="375.88" r="1.65"/><circle cx="237.88" cy="412.12" r="1.65"/><circle cx="237.88" cy="381.5" r="1.65"/><circle cx="240.38" cy="431.75" r="1.65"/><circle cx="240.38" cy="411.75" r="1.65"/><circle cx="243.12" cy="414.25" r="1.65"/><circle cx="243.12" cy="400.5" r="1.65"/><circle cx="245.62" cy="417.38" r="1.65"/><circle cx="245.62" cy="408.88" r="1.65"/><circle cx="248.25" cy="402.38" r="1.65"/><circle cx="248.25" cy="358.62" r="1.65"/><circle cx="250.88" cy="390.25" r="1.65"/><circle cx="250.88" cy="381.75" r="1.65"/><circle cx="253.5" cy="394" r="1.65"/><circle cx="253.5" cy="349.88" r="1.65"/><circle cx="256" cy="381.5" r="1.65"/><circle cx="256" cy="354.62" r="1.65"/><circle cx="258.75" cy="418.25" r="1.65"/><circle cx="258.75" cy="359.25" r="1.65"/><circle cx="261.38" cy="384.25" r="1.65"/><circle cx="261.38" cy="339.88" r="1.65"/><circle cx="264" cy="401.12" r="1.65"/><circle cx="264" cy="367" r="1.65"/><circle cx="266.5" cy="409.25" r="1.65"/><circle cx="266.5" cy="399.88" r="1.65"/><circle cx="269.12" cy="410.75" r="1.65"/><circle cx="269.12" cy="385.75" r="1.65"/><circle cx="271.75" cy="387" r="1.65"/><circle cx="271.75" cy="363.25" r="1.65"/><circle cx="274.5" cy="405.25" r="1.65"/><circle cx="274.5" cy="394" r="1.65"/><circle cx="277" cy="394" r="1.65"/><circle cx="277" cy="388.88" r="1.65"/><circle cx="279.62" cy="393.25" r="1.65"/><circle cx="279.62" cy="377.75" r="1.65"/><circle cx="282.25" cy="427.12" r="1.65"/><circle cx="282.25" cy="409.62" r="1.65"/><circle cx="284.88" cy="409.5" r="1.65"/><circle cx="284.88" cy="374.5" r="1.65"/><circle cx="287.5" cy="389.5" r="1.65"/><circle cx="287.5" cy="357" r="1.65"/><circle cx="290.12" cy="377.12" r="1.65"/><circle cx="290.12" cy="329.5" r="1.65"/><circle cx="292.62" cy="380.12" r="1.65"/><circle cx="292.62" cy="341.75" r="1.65"/><circle cx="295.25" cy="372.12" r="1.65"/><circle cx="295.25" cy="337.75" r="1.65"/><circle cx="297.88" cy="376.5" r="1.65"/><circle cx="297.88" cy="324.5" r="1.65"/><circle cx="300.38" cy="401.38" r="1.65"/><circle cx="300.38" cy="353.62" r="1.65"/><circle cx="303.12" cy="373.38" r="1.65"/><circle cx="303.12" cy="337.75" r="1.65"/><circle cx="305.75" cy="396.12" r="1.65"/><circle cx="305.75" cy="358.88" r="1.65"/><circle cx="308.38" cy="385.12" r="1.65"/><circle cx="308.38" cy="349.62" r="1.65"/><circle cx="310.88" cy="434.25" r="1.65"/><circle cx="310.88" cy="374" r="1.65"/><circle cx="313.5" cy="384.5" r="1.65"/><circle cx="313.5" cy="359.5" r="1.65"/><circle cx="316.12" cy="379.5" r="1.65"/><circle cx="316.12" cy="359.88" r="1.65"/><circle cx="318.75" cy="399.5" r="1.65"/><circle cx="318.75" cy="357" r="1.65"/><circle cx="321.25" cy="381.75" r="1.65"/><circle cx="321.25" cy="341.38" r="1.65"/><circle cx="324" cy="372" r="1.65"/><circle cx="324" cy="344" r="1.65"/><circle cx="326.62" cy="380.25" r="1.65"/><circle cx="326.62" cy="338.38" r="1.65"/><circle cx="329.25" cy="379.88" r="1.65"/><circle cx="329.25" cy="325.25" r="1.65"/><circle cx="331.88" cy="381.75" r="1.65"/><circle cx="331.88" cy="324.25" r="1.65"/><circle cx="334.5" cy="386.5" r="1.65"/><circle cx="334.5" cy="327.12" r="1.65"/><circle cx="337.12" cy="398.88" r="1.65"/><circle cx="337.12" cy="342.75" r="1.65"/><circle cx="339.62" cy="390.25" r="1.65"/><circle cx="339.62" cy="377.62" r="1.65"/><circle cx="342.25" cy="365.5" r="1.65"/><circle cx="342.25" cy="327.12" r="1.65"/><circle cx="345" cy="368.62" r="1.65"/><circle cx="345" cy="349.62" r="1.65"/><circle cx="352.75" cy="380.75" r="1.65"/><circle cx="352.75" cy="318.88" r="1.65"/><circle cx="355.38" cy="381.75" r="1.65"/><circle cx="355.38" cy="323.38" r="1.65"/><circle cx="358" cy="383.88" r="1.65"/><circle cx="358" cy="337" r="1.65"/><circle cx="360.62" cy="364" r="1.65"/><circle cx="360.62" cy="341.5" r="1.65"/><circle cx="363.25" cy="383.88" r="1.65"/><circle cx="363.25" cy="357" r="1.65"/><circle cx="365.88" cy="416.12" r="1.65"/><circle cx="365.88" cy="337.75" r="1.65"/><circle cx="368.25" cy="394" r="1.65"/><circle cx="368.25" cy="373.62" r="1.65"/><circle cx="371.12" cy="386.12" r="1.65"/><circle cx="371.12" cy="353.62" r="1.65"/><circle cx="373.62" cy="368.25" r="1.65"/><circle cx="373.62" cy="339.62" r="1.65"/><circle cx="376.25" cy="383.88" r="1.65"/><circle cx="376.25" cy="354.62" r="1.65"/><circle cx="379" cy="374.62" r="1.65"/><circle cx="379" cy="356.75" r="1.65"/><circle cx="381.5" cy="386.5" r="1.65"/><circle cx="381.5" cy="364.5" r="1.65"/><circle cx="384.25" cy="388.38" r="1.65"/><circle cx="384.25" cy="355.5" r="1.65"/><circle cx="386.88" cy="384.88" r="1.65"/><circle cx="386.88" cy="345.5" r="1.65"/><circle cx="389.5" cy="385.12" r="1.65"/><circle cx="392" cy="373.25" r="1.65"/><circle cx="394.62" cy="372.75" r="1.65"/><circle cx="394.62" cy="363" r="1.65"/><circle cx="397.25" cy="402.62" r="1.65"/><circle cx="397.25" cy="381.5" r="1.65"/><circle cx="399.88" cy="389.88" r="1.65"/><circle cx="399.88" cy="374.5" r="1.65"/><circle cx="402.5" cy="384.5" r="1.65"/><circle cx="402.5" cy="380.75" r="1.65"/><circle cx="405.12" cy="377" r="1.65"/><circle cx="405.12" cy="357.62" r="1.65"/><circle cx="407.62" cy="404.25" r="1.65"/><circle cx="407.62" cy="362.75" r="1.65"/><circle cx="410.25" cy="392.38" r="1.65"/><circle cx="410.25" cy="353.88" r="1.65"/><circle cx="412.75" cy="392" r="1.65"/><circle cx="412.75" cy="328" r="1.65"/><circle cx="415.62" cy="390.5" r="1.65"/><circle cx="415.62" cy="314.75" r="1.65"/><circle cx="418.12" cy="388.25" r="1.65"/><circle cx="418.12" cy="323.62" r="1.65"/><circle cx="420.88" cy="398.88" r="1.65"/><circle cx="420.88" cy="351.5" r="1.65"/><circle cx="423.38" cy="405.88" r="1.65"/><circle cx="423.38" cy="326.38" r="1.65"/><circle cx="426" cy="401.38" r="1.65"/><circle cx="426" cy="355.12" r="1.65"/><circle cx="428.75" cy="398.25" r="1.65"/><circle cx="428.75" cy="322" r="1.65"/><circle cx="431.25" cy="402" r="1.65"/><circle cx="431.25" cy="335.75" r="1.65"/><circle cx="433.88" cy="381.5" r="1.65"/><circle cx="433.88" cy="331.5" r="1.65"/><circle cx="436.5" cy="400.88" r="1.65"/><circle cx="436.5" cy="322" r="1.65"/><circle cx="439" cy="337.75" r="1.65"/><circle cx="439" cy="320.75" r="1.65"/><circle cx="441.62" cy="403" r="1.65"/><circle cx="441.62" cy="343" r="1.65"/><circle cx="444.38" cy="398.88" r="1.65"/><circle cx="444.38" cy="346.38" r="1.65"/><circle cx="447" cy="401.75" r="1.65"/><circle cx="447" cy="343.25" r="1.65"/><circle cx="449.5" cy="332.12" r="1.65"/><circle cx="452.12" cy="365.25" r="1.65"/><circle cx="452.12" cy="325.88" r="1.65"/><circle cx="454.75" cy="387.38" r="1.65"/><circle cx="454.75" cy="336.12" r="1.65"/><circle cx="457.38" cy="397.75" r="1.65"/><circle cx="457.38" cy="329.88" r="1.65"/><circle cx="460.12" cy="389.5" r="1.65"/><circle cx="460.12" cy="342.75" r="1.65"/><circle cx="462.75" cy="393" r="1.65"/><circle cx="462.75" cy="336.5" r="1.65"/><circle cx="465.25" cy="439.25" r="1.65"/><circle cx="465.25" cy="272.25" r="1.65"/><circle cx="468" cy="364.88" r="1.65"/><circle cx="468" cy="327.38" r="1.65"/><circle cx="470.5" cy="366.88" r="1.65"/><circle cx="470.5" cy="357.75" r="1.65"/><circle cx="473.12" cy="365.88" r="1.65"/><circle cx="473.12" cy="342" r="1.65"/></g>
<rect x="55.1" y="258.5" width="431.6" height="214.6" fill="none" stroke="#6f6f6f" stroke-width="1.3"/>
<text class="yt" x="45.6" y="477.25" text-anchor="end">0</text>
<text class="yt" x="45.6" y="454.59" text-anchor="end">10</text>
<text class="yt" x="45.6" y="431.93" text-anchor="end">20</text>
<text class="yt" x="45.6" y="409.27" text-anchor="end">30</text>
<text class="yt" x="45.6" y="386.61" text-anchor="end">40</text>
<text class="yt" x="45.6" y="363.95" text-anchor="end">50</text>
<text class="yt" x="45.6" y="341.29" text-anchor="end">60</text>
<text class="yt" x="45.6" y="318.63" text-anchor="end">70</text>
<text class="yt" x="45.6" y="295.97" text-anchor="end">80</text>
<text class="yt" x="45.6" y="273.31" text-anchor="end">90</text>
<path d="M50.7 473.1H55.1M50.7 450.44H55.1M50.7 427.78H55.1M50.7 405.12H55.1M50.7 382.46H55.1M50.7 359.8H55.1M50.7 337.14H55.1M50.7 314.48H55.1M50.7 291.82H55.1M50.7 269.16H55.1M55.2 473.1V477.1M60.43 473.1V475.5M65.66 473.1V475.5M70.89 473.1V475.5M76.12 473.1V475.5M81.35 473.1V477.1M86.58 473.1V475.5M91.81 473.1V475.5M97.04 473.1V475.5M102.27 473.1V475.5M107.5 473.1V477.1M112.73 473.1V475.5M117.96 473.1V475.5M123.19 473.1V475.5M128.42 473.1V475.5M133.65 473.1V477.1M138.88 473.1V475.5M144.11 473.1V475.5M149.34 473.1V475.5M154.57 473.1V475.5M159.8 473.1V477.1M165.03 473.1V475.5M170.26 473.1V475.5M175.49 473.1V475.5M180.72 473.1V475.5M185.95 473.1V477.1M191.18 473.1V475.5M196.41 473.1V475.5M201.64 473.1V475.5M206.87 473.1V475.5M212.1 473.1V477.1M217.33 473.1V475.5M222.56 473.1V475.5M227.79 473.1V475.5M233.02 473.1V475.5M238.25 473.1V477.1M243.48 473.1V475.5M248.71 473.1V475.5M253.94 473.1V475.5M259.17 473.1V475.5M264.4 473.1V477.1M269.63 473.1V475.5M274.86 473.1V475.5M280.09 473.1V475.5M285.32 473.1V475.5M290.55 473.1V477.1M295.78 473.1V475.5M301.01 473.1V475.5M306.24 473.1V475.5M311.47 473.1V475.5M316.7 473.1V477.1M321.93 473.1V475.5M327.16 473.1V475.5M332.39 473.1V475.5M337.62 473.1V475.5M342.85 473.1V477.1M348.08 473.1V475.5M353.31 473.1V475.5M358.54 473.1V475.5M363.77 473.1V475.5M369 473.1V477.1M374.23 473.1V475.5M379.46 473.1V475.5M384.69 473.1V475.5M389.92 473.1V475.5M395.15 473.1V477.1M400.38 473.1V475.5M405.61 473.1V475.5M410.84 473.1V475.5M416.07 473.1V475.5M421.3 473.1V477.1M426.53 473.1V475.5M431.76 473.1V475.5M436.99 473.1V475.5M442.22 473.1V475.5M447.45 473.1V477.1M452.68 473.1V475.5M457.91 473.1V475.5M463.14 473.1V475.5M468.37 473.1V475.5M473.6 473.1V477.1M478.83 473.1V475.5M484.06 473.1V475.5" stroke="#6f6f6f" stroke-width="1.3" fill="none"/>
<text class="tt" transform="translate(83.5,277.7) scale(0.95,1)">T12 Raíz</text>
<text class="yl" transform="translate(23.3,365) rotate(-90)" text-anchor="middle">Salinidad (ppt)</text>
<text class="tl" x="66.25" y="487.3" text-anchor="middle">2011</text>
<text class="tl" x="100" y="487.3" text-anchor="middle">2012</text>
<text class="tl" x="126.75" y="487.3" text-anchor="middle">2013</text>
<text class="tl" x="157.5" y="487.3" text-anchor="middle">2014</text>
<text class="tl" x="187.5" y="487.3" text-anchor="middle">2015</text>
<text class="tl" x="225.25" y="487.3" text-anchor="middle">2016</text>
<text class="tl" x="252" y="487.3" text-anchor="middle">2017</text>
<text class="tl" x="284.5" y="487.3" text-anchor="middle">2018</text>
<text class="tl" x="314" y="487.3" text-anchor="middle">2019</text>
<text class="tl" x="346" y="487.3" text-anchor="middle">2020</text>
<text class="tl" x="379" y="487.3" text-anchor="middle">2021</text>
<text class="tl" x="408" y="487.3" text-anchor="middle">2022</text>
<text class="tl" x="434.4" y="487.3" text-anchor="middle">2023</text>
<text class="tl" x="461.5" y="488.1" text-anchor="middle">2024</text>
</g>
<g id="tr">
<path class="dg" d="M555 214.25L557.62 226.62M557.62 201.62L562.88 202M562.88 197.25L565.62 193.88M565.62 186.12L576.25 226.62M576.25 214.12L578.88 226.62M578.88 212.88L584.12 195.38M584.12 181.62L591.88 214.25M591.88 186.62L594.62 189.75M594.62 172.25L597.25 226.62M597.25 186L600 211.62M600 187.25L602.62 210.38M602.62 197.62L605.25 226.62M605.25 226.62L607.88 213.88M607.88 187L610.5 226.62M610.5 195.38L615.75 200.75M615.75 186L618.5 216.38M618.5 207L621.25 158.5M621.25 140.88L623.88 196.62M623.88 178L626.5 150.25M626.5 139.75L631.88 206.75M631.88 190.75L634.5 209.25M634.5 201L637.12 226.62M652.88 226.62L655.62 184.88M655.62 184.88L658.25 183.5M658.25 179.12L660.88 198.88M660.88 193.88L663.5 203.5M663.5 198.62L666.12 220.5M666.12 211.12L668.75 217.38M668.75 215.5L671.38 226.62M671.38 226.62L674 226.62M679.38 195.75L682 226.62M682 226.62L684.62 200.38M684.62 180.12L687.38 198.88M687.38 183.25L690 177.25M690 157.12L692.62 174.12M692.62 164.62L695.25 212.88M695.25 203.5L697.88 221.62M697.88 192.88L700.5 226.62M700.5 220.75L703.12 226.62M703.12 226.62L705.75 202.38M705.75 191.75L708.5 186.12M708.5 177.88L711.12 221M711.12 199.75L713.75 201M713.75 189.5L716.38 179.12M716.38 162.88L719 147.88M719 120L721.62 90M721.62 88.25L724.38 165.25M724.38 156L726.88 201M726.88 187L729.62 226.62M729.62 212.62L732.25 219.75M732.25 207.88L735 202.38M735 189.5L737.62 226.62M737.62 204.5L740.25 217.25M740.25 205.75L742.88 203.5M742.88 195.12L745.5 217.38M745.5 198.88L748.12 197.62M748.12 176.62L750.75 122.5M750.75 78.62L753.5 203.5M753.5 187L756.12 213.88M756.12 203.25L758.75 214.25M758.75 212.38L761.38 221.75M761.38 221.75L764 223M764 213.88L766.75 223M766.75 214.88L769.38 226.62M769.38 225.12L772 226.62M772 219.5L774.62 217M774.62 217L777.25 219.25M777.25 216.75L779.75 204.5M779.75 197.62L782.5 175.5M782.5 162.88L785.25 200.12M785.25 182.62L787.88 198.88M787.88 192.88L790.5 206M790.5 201L793.25 206M793.25 198.88L795.75 180.12M798.38 208L801 169.75M801 161.88L803.75 188.5M811.62 197.62L814.25 153.5M814.25 138.12L817 152.25M817 151L819.62 185.12M819.62 175.75L822.25 204.5M822.25 195.5L824.88 220.5M824.88 207.62L827.5 226.62M827.5 202.38L835.62 161.25M835.62 140.38L838.25 226.62M838.25 212.88L840.88 196M840.88 184.88L843.5 123.75M843.5 113.12L846.12 156.25M846.12 154.38L848.75 134.12M848.75 113.12L851.38 188.25M851.38 184.88L854 206M854 196.62L856.75 214.5M862 188.25L864.62 184.88M864.62 178L867.38 182.88M867.38 181.12L870 207M870 194.12L872.62 226.62M872.62 226.62L875.38 171.12M875.38 162.88L878 182.62M878 174.75L880.62 175.12M880.62 175.12L883.25 210.5M883.25 193L885.88 209.25M885.88 200.12L888.5 211.38M888.5 187L891.25 226.62M891.25 213.88L893.88 226.62M893.88 226.62L896.5 226.62M896.5 226.62L899.12 226.62M899.12 214.88L901.62 218.5M901.62 208L904.25 207.62M904.25 207.62L906.88 180.38M906.88 171.12L909.62 169.5M909.62 162.88L912.25 149.62M912.25 145.38L914.88 187.25M914.88 183L917.5 195.5M925.5 174.75L928.25 194.12M928.25 186L930.88 211.62M930.88 205.75L933.5 197.62M933.5 197.62L936.12 216.12M936.12 209.5L938.75 226.62M938.75 178L941.5 126.88M941.5 123.75L944 144.38M944 142.5L946.75 153.75M946.75 146.62L949.38 206M949.38 198.88L952 226.62M952 226.62L954.62 226.62M954.62 226.62L957.25 226.62"/>
<path class="vr" d="M555 224.25V214.25M557.62 226.62V201.62M562.88 202V197.25M565.62 193.88V186.12M576.25 226.62V214.12M578.88 226.62V212.88M584.12 195.38V181.62M591.88 214.25V186.62M594.62 189.75V172.25M597.25 226.62V186M600 211.62V187.25M602.62 210.38V197.62M607.88 213.88V187M610.5 226.62V195.38M615.75 200.75V186M618.5 216.38V207M621.25 158.5V140.88M623.88 196.62V178M626.5 150.25V139.75M631.88 206.75V190.75M634.5 209.25V201M645 198.88V195.75M658.25 183.5V179.12M660.88 198.88V193.88M663.5 203.5V198.62M666.12 220.5V211.12M668.75 217.38V215.5M679.38 209.75V195.75M684.62 200.38V180.12M687.38 198.88V183.25M690 177.25V157.12M692.62 174.12V164.62M695.25 212.88V203.5M697.88 221.62V192.88M700.5 226.62V220.75M705.75 202.38V191.75M708.5 186.12V177.88M711.12 221V199.75M713.75 201V189.5M716.38 179.12V162.88M719 147.88V120M721.62 90V88.25M724.38 165.25V156M726.88 201V187M729.62 226.62V212.62M732.25 219.75V207.88M735 202.38V189.5M737.62 226.62V204.5M740.25 217.25V205.75M742.88 203.5V195.12M745.5 217.38V198.88M748.12 197.62V176.62M750.75 122.5V78.62M753.5 203.5V187M756.12 213.88V203.25M758.75 214.25V212.38M764 223V213.88M766.75 223V214.88M769.38 226.62V225.12M772 226.62V219.5M777.25 219.25V216.75M779.75 204.5V197.62M782.5 175.5V162.88M785.25 200.12V182.62M787.88 198.88V192.88M790.5 206V201M793.25 206V198.88M795.75 180.12V178.88M801 169.75V161.88M803.75 188.5V173.25M814.25 153.5V138.12M817 152.25V151M819.62 185.12V175.75M822.25 204.5V195.5M824.88 220.5V207.62M827.5 226.62V202.38M835.62 161.25V140.38M838.25 226.62V212.88M840.88 196V184.88M843.5 123.75V113.12M846.12 156.25V154.38M848.75 134.12V113.12M851.38 188.25V184.88M854 206V196.62M862 190.75V188.25M864.62 184.88V178M867.38 182.88V181.12M870 207V194.12M875.38 171.12V162.88M878 182.62V174.75M883.25 210.5V193M885.88 209.25V200.12M888.5 211.38V187M891.25 226.62V213.88M899.12 226.62V214.88M901.62 218.5V208M906.88 180.38V171.12M909.62 169.5V162.88M912.25 149.62V145.38M914.88 187.25V183M917.5 195.5V190.5M925.5 177.62V174.75M928.25 194.12V186M930.88 211.62V205.75M936.12 216.12V209.5M938.75 226.62V178M941.5 126.88V123.75M944 144.38V142.5M946.75 153.75V146.62M949.38 206V198.88"/>
<g class="mk"><circle cx="555" cy="224.25" r="1.65"/><circle cx="555" cy="214.25" r="1.65"/><circle cx="557.62" cy="226.62" r="1.65"/><circle cx="557.62" cy="201.62" r="1.65"/><circle cx="562.88" cy="202" r="1.65"/><circle cx="562.88" cy="197.25" r="1.65"/><circle cx="565.62" cy="193.88" r="1.65"/><circle cx="565.62" cy="186.12" r="1.65"/><circle cx="576.25" cy="226.62" r="1.65"/><circle cx="576.25" cy="214.12" r="1.65"/><circle cx="578.88" cy="226.62" r="1.65"/><circle cx="578.88" cy="212.88" r="1.65"/><circle cx="584.12" cy="195.38" r="1.65"/><circle cx="584.12" cy="181.62" r="1.65"/><circle cx="591.88" cy="214.25" r="1.65"/><circle cx="591.88" cy="186.62" r="1.65"/><circle cx="594.62" cy="189.75" r="1.65"/><circle cx="594.62" cy="172.25" r="1.65"/><circle cx="597.25" cy="226.62" r="1.65"/><circle cx="597.25" cy="186" r="1.65"/><circle cx="600" cy="211.62" r="1.65"/><circle cx="600" cy="187.25" r="1.65"/><circle cx="602.62" cy="210.38" r="1.65"/><circle cx="602.62" cy="197.62" r="1.65"/><circle cx="605.25" cy="226.62" r="1.65"/><circle cx="607.88" cy="213.88" r="1.65"/><circle cx="607.88" cy="187" r="1.65"/><circle cx="610.5" cy="226.62" r="1.65"/><circle cx="610.5" cy="195.38" r="1.65"/><circle cx="615.75" cy="200.75" r="1.65"/><circle cx="615.75" cy="186" r="1.65"/><circle cx="618.5" cy="216.38" r="1.65"/><circle cx="618.5" cy="207" r="1.65"/><circle cx="621.25" cy="158.5" r="1.65"/><circle cx="621.25" cy="140.88" r="1.65"/><circle cx="623.88" cy="196.62" r="1.65"/><circle cx="623.88" cy="178" r="1.65"/><circle cx="626.5" cy="150.25" r="1.65"/><circle cx="626.5" cy="139.75" r="1.65"/><circle cx="631.88" cy="206.75" r="1.65"/><circle cx="631.88" cy="190.75" r="1.65"/><circle cx="634.5" cy="209.25" r="1.65"/><circle cx="634.5" cy="201" r="1.65"/><circle cx="637.12" cy="226.62" r="1.65"/><circle cx="645" cy="198.88" r="1.65"/><circle cx="645" cy="195.75" r="1.65"/><circle cx="652.88" cy="226.62" r="1.65"/><circle cx="655.62" cy="184.88" r="1.65"/><circle cx="658.25" cy="183.5" r="1.65"/><circle cx="658.25" cy="179.12" r="1.65"/><circle cx="660.88" cy="198.88" r="1.65"/><circle cx="660.88" cy="193.88" r="1.65"/><circle cx="663.5" cy="203.5" r="1.65"/><circle cx="663.5" cy="198.62" r="1.65"/><circle cx="666.12" cy="220.5" r="1.65"/><circle cx="666.12" cy="211.12" r="1.65"/><circle cx="668.75" cy="217.38" r="1.65"/><circle cx="668.75" cy="215.5" r="1.65"/><circle cx="671.38" cy="226.62" r="1.65"/><circle cx="674" cy="226.62" r="1.65"/><circle cx="679.38" cy="209.75" r="1.65"/><circle cx="679.38" cy="195.75" r="1.65"/><circle cx="682" cy="226.62" r="1.65"/><circle cx="684.62" cy="200.38" r="1.65"/><circle cx="684.62" cy="180.12" r="1.65"/><circle cx="687.38" cy="198.88" r="1.65"/><circle cx="687.38" cy="183.25" r="1.65"/><circle cx="690" cy="177.25" r="1.65"/><circle cx="690" cy="157.12" r="1.65"/><circle cx="692.62" cy="174.12" r="1.65"/><circle cx="692.62" cy="164.62" r="1.65"/><circle cx="695.25" cy="212.88" r="1.65"/><circle cx="695.25" cy="203.5" r="1.65"/><circle cx="697.88" cy="221.62" r="1.65"/><circle cx="697.88" cy="192.88" r="1.65"/><circle cx="700.5" cy="226.62" r="1.65"/><circle cx="700.5" cy="220.75" r="1.65"/><circle cx="703.12" cy="226.62" r="1.65"/><circle cx="705.75" cy="202.38" r="1.65"/><circle cx="705.75" cy="191.75" r="1.65"/><circle cx="708.5" cy="186.12" r="1.65"/><circle cx="708.5" cy="177.88" r="1.65"/><circle cx="711.12" cy="221" r="1.65"/><circle cx="711.12" cy="199.75" r="1.65"/><circle cx="713.75" cy="201" r="1.65"/><circle cx="713.75" cy="189.5" r="1.65"/><circle cx="716.38" cy="179.12" r="1.65"/><circle cx="716.38" cy="162.88" r="1.65"/><circle cx="719" cy="147.88" r="1.65"/><circle cx="719" cy="120" r="1.65"/><circle cx="721.62" cy="90" r="1.65"/><circle cx="721.62" cy="88.25" r="1.65"/><circle cx="724.38" cy="165.25" r="1.65"/><circle cx="724.38" cy="156" r="1.65"/><circle cx="726.88" cy="201" r="1.65"/><circle cx="726.88" cy="187" r="1.65"/><circle cx="729.62" cy="226.62" r="1.65"/><circle cx="729.62" cy="212.62" r="1.65"/><circle cx="732.25" cy="219.75" r="1.65"/><circle cx="732.25" cy="207.88" r="1.65"/><circle cx="735" cy="202.38" r="1.65"/><circle cx="735" cy="189.5" r="1.65"/><circle cx="737.62" cy="226.62" r="1.65"/><circle cx="737.62" cy="204.5" r="1.65"/><circle cx="740.25" cy="217.25" r="1.65"/><circle cx="740.25" cy="205.75" r="1.65"/><circle cx="742.88" cy="203.5" r="1.65"/><circle cx="742.88" cy="195.12" r="1.65"/><circle cx="745.5" cy="217.38" r="1.65"/><circle cx="745.5" cy="198.88" r="1.65"/><circle cx="748.12" cy="197.62" r="1.65"/><circle cx="748.12" cy="176.62" r="1.65"/><circle cx="750.75" cy="122.5" r="1.65"/><circle cx="750.75" cy="78.62" r="1.65"/><circle cx="753.5" cy="203.5" r="1.65"/><circle cx="753.5" cy="187" r="1.65"/><circle cx="756.12" cy="213.88" r="1.65"/><circle cx="756.12" cy="203.25" r="1.65"/><circle cx="758.75" cy="214.25" r="1.65"/><circle cx="758.75" cy="212.38" r="1.65"/><circle cx="761.38" cy="221.75" r="1.65"/><circle cx="764" cy="223" r="1.65"/><circle cx="764" cy="213.88" r="1.65"/><circle cx="766.75" cy="223" r="1.65"/><circle cx="766.75" cy="214.88" r="1.65"/><circle cx="769.38" cy="226.62" r="1.65"/><circle cx="769.38" cy="225.12" r="1.65"/><circle cx="772" cy="226.62" r="1.65"/><circle cx="772" cy="219.5" r="1.65"/><circle cx="774.62" cy="217" r="1.65"/><circle cx="777.25" cy="219.25" r="1.65"/><circle cx="777.25" cy="216.75" r="1.65"/><circle cx="779.75" cy="204.5" r="1.65"/><circle cx="779.75" cy="197.62" r="1.65"/><circle cx="782.5" cy="175.5" r="1.65"/><circle cx="782.5" cy="162.88" r="1.65"/><circle cx="785.25" cy="200.12" r="1.65"/><circle cx="785.25" cy="182.62" r="1.65"/><circle cx="787.88" cy="198.88" r="1.65"/><circle cx="787.88" cy="192.88" r="1.65"/><circle cx="790.5" cy="206" r="1.65"/><circle cx="790.5" cy="201" r="1.65"/><circle cx="793.25" cy="206" r="1.65"/><circle cx="793.25" cy="198.88" r="1.65"/><circle cx="795.75" cy="180.12" r="1.65"/><circle cx="795.75" cy="178.88" r="1.65"/><circle cx="798.38" cy="208" r="1.65"/><circle cx="801" cy="169.75" r="1.65"/><circle cx="801" cy="161.88" r="1.65"/><circle cx="803.75" cy="188.5" r="1.65"/><circle cx="803.75" cy="173.25" r="1.65"/><circle cx="806.38" cy="211.62" r="1.65"/><circle cx="811.62" cy="197.62" r="1.65"/><circle cx="814.25" cy="153.5" r="1.65"/><circle cx="814.25" cy="138.12" r="1.65"/><circle cx="817" cy="152.25" r="1.65"/><circle cx="817" cy="151" r="1.65"/><circle cx="819.62" cy="185.12" r="1.65"/><circle cx="819.62" cy="175.75" r="1.65"/><circle cx="822.25" cy="204.5" r="1.65"/><circle cx="822.25" cy="195.5" r="1.65"/><circle cx="824.88" cy="220.5" r="1.65"/><circle cx="824.88" cy="207.62" r="1.65"/><circle cx="827.5" cy="226.62" r="1.65"/><circle cx="827.5" cy="202.38" r="1.65"/><circle cx="835.62" cy="161.25" r="1.65"/><circle cx="835.62" cy="140.38" r="1.65"/><circle cx="838.25" cy="226.62" r="1.65"/><circle cx="838.25" cy="212.88" r="1.65"/><circle cx="840.88" cy="196" r="1.65"/><circle cx="840.88" cy="184.88" r="1.65"/><circle cx="843.5" cy="123.75" r="1.65"/><circle cx="843.5" cy="113.12" r="1.65"/><circle cx="846.12" cy="156.25" r="1.65"/><circle cx="846.12" cy="154.38" r="1.65"/><circle cx="848.75" cy="134.12" r="1.65"/><circle cx="848.75" cy="113.12" r="1.65"/><circle cx="851.38" cy="188.25" r="1.65"/><circle cx="851.38" cy="184.88" r="1.65"/><circle cx="854" cy="206" r="1.65"/><circle cx="854" cy="196.62" r="1.65"/><circle cx="856.75" cy="214.5" r="1.65"/><circle cx="862" cy="190.75" r="1.65"/><circle cx="862" cy="188.25" r="1.65"/><circle cx="864.62" cy="184.88" r="1.65"/><circle cx="864.62" cy="178" r="1.65"/><circle cx="867.38" cy="182.88" r="1.65"/><circle cx="867.38" cy="181.12" r="1.65"/><circle cx="870" cy="207" r="1.65"/><circle cx="870" cy="194.12" r="1.65"/><circle cx="872.62" cy="226.62" r="1.65"/><circle cx="875.38" cy="171.12" r="1.65"/><circle cx="875.38" cy="162.88" r="1.65"/><circle cx="878" cy="182.62" r="1.65"/><circle cx="878" cy="174.75" r="1.65"/><circle cx="880.62" cy="175.12" r="1.65"/><circle cx="883.25" cy="210.5" r="1.65"/><circle cx="883.25" cy="193" r="1.65"/><circle cx="885.88" cy="209.25" r="1.65"/><circle cx="885.88" cy="200.12" r="1.65"/><circle cx="888.5" cy="211.38" r="1.65"/><circle cx="888.5" cy="187" r="1.65"/><circle cx="891.25" cy="226.62" r="1.65"/><circle cx="891.25" cy="213.88" r="1.65"/><circle cx="893.88" cy="226.62" r="1.65"/><circle cx="896.5" cy="226.62" r="1.65"/><circle cx="899.12" cy="226.62" r="1.65"/><circle cx="899.12" cy="214.88" r="1.65"/><circle cx="901.62" cy="218.5" r="1.65"/><circle cx="901.62" cy="208" r="1.65"/><circle cx="904.25" cy="207.62" r="1.65"/><circle cx="906.88" cy="180.38" r="1.65"/><circle cx="906.88" cy="171.12" r="1.65"/><circle cx="909.62" cy="169.5" r="1.65"/><circle cx="909.62" cy="162.88" r="1.65"/><circle cx="912.25" cy="149.62" r="1.65"/><circle cx="912.25" cy="145.38" r="1.65"/><circle cx="914.88" cy="187.25" r="1.65"/><circle cx="914.88" cy="183" r="1.65"/><circle cx="917.5" cy="195.5" r="1.65"/><circle cx="917.5" cy="190.5" r="1.65"/><circle cx="925.5" cy="177.62" r="1.65"/><circle cx="925.5" cy="174.75" r="1.65"/><circle cx="928.25" cy="194.12" r="1.65"/><circle cx="928.25" cy="186" r="1.65"/><circle cx="930.88" cy="211.62" r="1.65"/><circle cx="930.88" cy="205.75" r="1.65"/><circle cx="933.5" cy="197.62" r="1.65"/><circle cx="936.12" cy="216.12" r="1.65"/><circle cx="936.12" cy="209.5" r="1.65"/><circle cx="938.75" cy="226.62" r="1.65"/><circle cx="938.75" cy="178" r="1.65"/><circle cx="941.5" cy="126.88" r="1.65"/><circle cx="941.5" cy="123.75" r="1.65"/><circle cx="944" cy="144.38" r="1.65"/><circle cx="944" cy="142.5" r="1.65"/><circle cx="946.75" cy="153.75" r="1.65"/><circle cx="946.75" cy="146.62" r="1.65"/><circle cx="949.38" cy="206" r="1.65"/><circle cx="949.38" cy="198.88" r="1.65"/><circle cx="952" cy="226.62" r="1.65"/><circle cx="954.62" cy="226.62" r="1.65"/><circle cx="957.25" cy="226.62" r="1.65"/></g>
<rect x="534.4" y="18.5" width="436.5" height="217.75" fill="none" stroke="#4d4d4d" stroke-width="1.0"/>
<text class="yt" x="525.2" y="231.15" text-anchor="end">0</text>
<text class="yt" x="525.2" y="184.77" text-anchor="end">10</text>
<text class="yt" x="525.2" y="138.39" text-anchor="end">20</text>
<text class="yt" x="525.2" y="92.01" text-anchor="end">30</text>
<text class="yt" x="525.2" y="45.63" text-anchor="end">40</text>
<path d="M530.2 227H534.4M530.2 180.62H534.4M530.2 134.24H534.4M530.2 87.86H534.4M530.2 41.48H534.4M534.3 236.25V240.25M539.59 236.25V238.65M544.88 236.25V238.65M550.17 236.25V238.65M555.46 236.25V238.65M560.75 236.25V240.25M566.04 236.25V238.65M571.33 236.25V238.65M576.62 236.25V238.65M581.91 236.25V238.65M587.2 236.25V240.25M592.49 236.25V238.65M597.78 236.25V238.65M603.07 236.25V238.65M608.36 236.25V238.65M613.65 236.25V240.25M618.94 236.25V238.65M624.23 236.25V238.65M629.52 236.25V238.65M634.81 236.25V238.65M640.1 236.25V240.25M645.39 236.25V238.65M650.68 236.25V238.65M655.97 236.25V238.65M661.26 236.25V238.65M666.55 236.25V240.25M671.84 236.25V238.65M677.13 236.25V238.65M682.42 236.25V238.65M687.71 236.25V238.65M693 236.25V240.25M698.29 236.25V238.65M703.58 236.25V238.65M708.87 236.25V238.65M714.16 236.25V238.65M719.45 236.25V240.25M724.74 236.25V238.65M730.03 236.25V238.65M735.32 236.25V238.65M740.61 236.25V238.65M745.9 236.25V240.25M751.19 236.25V238.65M756.48 236.25V238.65M761.77 236.25V238.65M767.06 236.25V238.65M772.35 236.25V240.25M777.64 236.25V238.65M782.93 236.25V238.65M788.22 236.25V238.65M793.51 236.25V238.65M798.8 236.25V240.25M804.09 236.25V238.65M809.38 236.25V238.65M814.67 236.25V238.65M819.96 236.25V238.65M825.25 236.25V240.25M830.54 236.25V238.65M835.83 236.25V238.65M841.12 236.25V238.65M846.41 236.25V238.65M851.7 236.25V240.25M856.99 236.25V238.65M862.28 236.25V238.65M867.57 236.25V238.65M872.86 236.25V238.65M878.15 236.25V240.25M883.44 236.25V238.65M888.73 236.25V238.65M894.02 236.25V238.65M899.31 236.25V238.65M904.6 236.25V240.25M909.89 236.25V238.65M915.18 236.25V238.65M920.47 236.25V238.65M925.76 236.25V238.65M931.05 236.25V240.25M936.34 236.25V238.65M941.63 236.25V238.65M946.92 236.25V238.65M952.21 236.25V238.65M957.5 236.25V240.25M962.79 236.25V238.65M968.08 236.25V238.65" stroke="#4d4d4d" stroke-width="1.0" fill="none"/>
<text class="tt" transform="translate(569,42.4) scale(0.94,1)">T11</text>
<text class="yl" transform="translate(502.4,126.2) rotate(-90)" text-anchor="middle">Nivel de inundación (cm)</text>
</g>
<g id="br">
<path class="dg" d="M555.62 460.62L558.25 456.5M558.25 427.75L563.5 446.5M563.5 435.5L566.25 426.5M579.62 463.38L584.75 463.38M584.75 463.38L592.5 455.62M592.5 437.12L595.25 427.38M595.25 416.88L598 463.38M598 428.62L600.62 443.75M600.62 433.38L603.25 445.88M603.25 444.62L605.88 463.38M605.88 463.38L608.62 456.5M608.62 449.62L611.25 463.38M611.25 434.38L616.5 416.12M616.5 412.5L619.25 463.38M619.25 450.62L621.88 405M621.88 378.88L624.5 430.88M624.5 419.62L627.12 409M627.12 378.88L632.5 435.5M632.5 423.38L635 448M635 443.38L637.62 463.38M643.12 446.5L645.75 437.12M661.5 430.88L664.12 443.38M664.12 443.38L666.88 449.62M685.38 440.25L688.12 435.62M688.12 420L690.75 400.12M690.75 389.25L693.38 391M693.38 386L695.88 437.12M695.88 434L698.5 433.38M698.5 423.75L701.25 452.75M701.25 442.5L703.88 449.62M703.88 433.38L706.5 433.62M706.5 428.38L709.12 424M709.12 418.12L711.88 428.62M711.88 424L714.5 442.75M714.5 442.75L717.12 421.5M717.12 402.88L719.75 387M719.75 367.25L722.5 365.75M722.5 365.75L725.12 414.62M725.12 390.12L727.75 454M727.75 449.25L730.38 449.62M730.38 446.88L733.12 458.75M733.12 451.5L735.75 429.88M735.75 425.25L738.38 414.62M738.38 393.62L741 451.5M741 442.5L743.62 438.75M743.62 433.12L746.25 437.75M746.25 435.25L748.88 409M748.88 409L751.5 346.12M751.5 343L754.12 419.38M754.12 413.75L756.88 426.25M756.88 412.12L759.5 429.88M759.5 415.88L762.12 461.88M767.5 433.12L770.12 463.38M770.12 463.38L772.75 463.38M778.12 415.88L780.75 414.62M780.75 400.38L783.38 402.25M783.38 376.38L786 423.75M786 384.75L788.62 419.38M788.62 414.62L791.25 423.75M791.25 405.5L793.88 422.75M793.88 422.75L796.5 388.25M796.5 382.25L799.25 459.88M799.25 419.62L801.88 406.75M801.88 389.12L804.5 414.62M804.5 397L807.12 463.38M812.5 414.88L815 361.62M815 331.25L817.75 397.25M817.75 370.5L820.38 419.38M820.38 405.5L823 421.5M823 418.12L825.62 423M825.62 411.5L828.38 429.88M828.38 426.5L836.25 389.25M836.25 355.12L838.88 463.38M838.88 432.12L841.62 416.12M841.62 412.5L844.25 344.12M844.25 316.25L846.88 374.25M846.88 370.75L849.5 326.62M849.5 312.88L852.12 413.62M852.12 405L854.75 396.12M854.75 295.38L857.5 439M857.5 430.88L860.12 430.88M860.12 430.88L862.75 406.5M862.75 395.5L865.38 403.25M865.38 390.38L868 405.88M868 405.88L870.62 453M870.62 422.75L873.38 463.38M873.38 463.38L876 383.25M876 374.75L878.62 400.5M878.62 391L881.25 393M881.25 389.12L884 433.38M884 428.62L886.62 424M886.62 410L889.25 437.75M889.25 424L891.88 442.5M891.88 430.88L894.5 463.38M894.5 463.38L897.12 463.38M897.12 463.38L899.75 463.38M899.75 451.88L902.5 444.62M902.5 432.12L905.12 421.88M905.12 410L907.75 393.88M907.75 379.88L910.38 364.12M910.38 351L913.12 366M913.12 338.12L915.75 421.5M915.75 403.25L918.38 418.38M918.38 400.5L921 456.5M926.25 391.62L928.88 463.38M928.88 430.88L931.62 445.88M936.88 419.25L939.5 463.38M939.5 424L942.12 367M942.12 317.5L944.75 375.12M944.75 365.75L947.5 419.38M947.5 376.38L950.12 433.38M950.12 409L952.75 463.38M952.75 434.38L955.38 463.38M955.38 426.5L958 463.38"/>
<path class="vr" d="M558.25 456.5V427.75M563.5 446.5V435.5M566.25 426.5V401.75M592.5 455.62V437.12M595.25 427.38V416.88M598 463.38V428.62M600.62 443.75V433.38M603.25 445.88V444.62M608.62 456.5V449.62M611.25 463.38V434.38M616.5 416.12V412.5M619.25 463.38V450.62M621.88 405V378.88M624.5 430.88V419.62M627.12 409V378.88M632.5 435.5V423.38M635 448V443.38M661.5 463.38V430.88M666.88 449.62V441.5M672.12 455.62V452.38M680 446.5V434M685.38 451.12V440.25M688.12 435.62V420M690.75 400.12V389.25M693.38 391V386M695.88 437.12V434M698.5 433.38V423.75M701.25 452.75V442.5M703.88 449.62V433.38M706.5 433.62V428.38M709.12 424V418.12M711.88 428.62V424M717.12 421.5V402.88M719.75 387V367.25M725.12 414.62V390.12M727.75 454V449.25M730.38 449.62V446.88M733.12 458.75V451.5M735.75 429.88V425.25M738.38 414.62V393.62M741 451.5V442.5M743.62 438.75V433.12M746.25 437.75V435.25M751.5 346.12V343M754.12 419.38V413.75M756.88 426.25V412.12M759.5 429.88V415.88M762.12 461.88V445.88M767.5 444.62V433.12M778.12 430.88V415.88M780.75 414.62V400.38M783.38 402.25V376.38M786 423.75V384.75M788.62 419.38V414.62M791.25 423.75V405.5M796.5 388.25V382.25M799.25 459.88V419.62M801.88 406.75V389.12M804.5 414.62V397M812.5 424V414.88M815 361.62V331.25M817.75 397.25V370.5M820.38 419.38V405.5M823 421.5V418.12M825.62 423V411.5M828.38 429.88V426.5M836.25 389.25V355.12M838.88 463.38V432.12M841.62 416.12V412.5M844.25 344.12V316.25M846.88 374.25V370.75M849.5 326.62V312.88M852.12 413.62V405M854.75 396.12V295.38M857.5 439V430.88M862.75 406.5V395.5M865.38 403.25V390.38M870.62 453V422.75M876 383.25V374.75M878.62 400.5V391M881.25 393V389.12M884 433.38V428.62M886.62 424V410M889.25 437.75V424M891.88 442.5V430.88M899.75 463.38V451.88M902.5 444.62V432.12M905.12 421.88V410M907.75 393.88V379.88M910.38 364.12V351M913.12 366V338.12M915.75 421.5V403.25M918.38 418.38V400.5M921 456.5V442.75M926.25 410V391.62M928.88 463.38V430.88M931.62 445.88V424M936.88 440.25V419.25M939.5 463.38V424M942.12 367V317.5M944.75 375.12V365.75M947.5 419.38V376.38M950.12 433.38V409M952.75 463.38V434.38M955.38 463.38V426.5"/>
<g class="mk"><circle cx="555.62" cy="460.62" r="1.65"/><circle cx="558.25" cy="456.5" r="1.65"/><circle cx="558.25" cy="427.75" r="1.65"/><circle cx="563.5" cy="446.5" r="1.65"/><circle cx="563.5" cy="435.5" r="1.65"/><circle cx="566.25" cy="426.5" r="1.65"/><circle cx="566.25" cy="401.75" r="1.65"/><circle cx="579.62" cy="463.38" r="1.65"/><circle cx="584.75" cy="463.38" r="1.65"/><circle cx="592.5" cy="455.62" r="1.65"/><circle cx="592.5" cy="437.12" r="1.65"/><circle cx="595.25" cy="427.38" r="1.65"/><circle cx="595.25" cy="416.88" r="1.65"/><circle cx="598" cy="463.38" r="1.65"/><circle cx="598" cy="428.62" r="1.65"/><circle cx="600.62" cy="443.75" r="1.65"/><circle cx="600.62" cy="433.38" r="1.65"/><circle cx="603.25" cy="445.88" r="1.65"/><circle cx="603.25" cy="444.62" r="1.65"/><circle cx="605.88" cy="463.38" r="1.65"/><circle cx="608.62" cy="456.5" r="1.65"/><circle cx="608.62" cy="449.62" r="1.65"/><circle cx="611.25" cy="463.38" r="1.65"/><circle cx="611.25" cy="434.38" r="1.65"/><circle cx="616.5" cy="416.12" r="1.65"/><circle cx="616.5" cy="412.5" r="1.65"/><circle cx="619.25" cy="463.38" r="1.65"/><circle cx="619.25" cy="450.62" r="1.65"/><circle cx="621.88" cy="405" r="1.65"/><circle cx="621.88" cy="378.88" r="1.65"/><circle cx="624.5" cy="430.88" r="1.65"/><circle cx="624.5" cy="419.62" r="1.65"/><circle cx="627.12" cy="409" r="1.65"/><circle cx="627.12" cy="378.88" r="1.65"/><circle cx="632.5" cy="435.5" r="1.65"/><circle cx="632.5" cy="423.38" r="1.65"/><circle cx="635" cy="448" r="1.65"/><circle cx="635" cy="443.38" r="1.65"/><circle cx="637.62" cy="463.38" r="1.65"/><circle cx="643.12" cy="446.5" r="1.65"/><circle cx="645.75" cy="437.12" r="1.65"/><circle cx="656.25" cy="421.75" r="1.65"/><circle cx="661.5" cy="463.38" r="1.65"/><circle cx="661.5" cy="430.88" r="1.65"/><circle cx="664.12" cy="443.38" r="1.65"/><circle cx="666.88" cy="449.62" r="1.65"/><circle cx="666.88" cy="441.5" r="1.65"/><circle cx="672.12" cy="455.62" r="1.65"/><circle cx="672.12" cy="452.38" r="1.65"/><circle cx="680" cy="446.5" r="1.65"/><circle cx="680" cy="434" r="1.65"/><circle cx="685.38" cy="451.12" r="1.65"/><circle cx="685.38" cy="440.25" r="1.65"/><circle cx="688.12" cy="435.62" r="1.65"/><circle cx="688.12" cy="420" r="1.65"/><circle cx="690.75" cy="400.12" r="1.65"/><circle cx="690.75" cy="389.25" r="1.65"/><circle cx="693.38" cy="391" r="1.65"/><circle cx="693.38" cy="386" r="1.65"/><circle cx="695.88" cy="437.12" r="1.65"/><circle cx="695.88" cy="434" r="1.65"/><circle cx="698.5" cy="433.38" r="1.65"/><circle cx="698.5" cy="423.75" r="1.65"/><circle cx="701.25" cy="452.75" r="1.65"/><circle cx="701.25" cy="442.5" r="1.65"/><circle cx="703.88" cy="449.62" r="1.65"/><circle cx="703.88" cy="433.38" r="1.65"/><circle cx="706.5" cy="433.62" r="1.65"/><circle cx="706.5" cy="428.38" r="1.65"/><circle cx="709.12" cy="424" r="1.65"/><circle cx="709.12" cy="418.12" r="1.65"/><circle cx="711.88" cy="428.62" r="1.65"/><circle cx="711.88" cy="424" r="1.65"/><circle cx="714.5" cy="442.75" r="1.65"/><circle cx="717.12" cy="421.5" r="1.65"/><circle cx="717.12" cy="402.88" r="1.65"/><circle cx="719.75" cy="387" r="1.65"/><circle cx="719.75" cy="367.25" r="1.65"/><circle cx="722.5" cy="365.75" r="1.65"/><circle cx="725.12" cy="414.62" r="1.65"/><circle cx="725.12" cy="390.12" r="1.65"/><circle cx="727.75" cy="454" r="1.65"/><circle cx="727.75" cy="449.25" r="1.65"/><circle cx="730.38" cy="449.62" r="1.65"/><circle cx="730.38" cy="446.88" r="1.65"/><circle cx="733.12" cy="458.75" r="1.65"/><circle cx="733.12" cy="451.5" r="1.65"/><circle cx="735.75" cy="429.88" r="1.65"/><circle cx="735.75" cy="425.25" r="1.65"/><circle cx="738.38" cy="414.62" r="1.65"/><circle cx="738.38" cy="393.62" r="1.65"/><circle cx="741" cy="451.5" r="1.65"/><circle cx="741" cy="442.5" r="1.65"/><circle cx="743.62" cy="438.75" r="1.65"/><circle cx="743.62" cy="433.12" r="1.65"/><circle cx="746.25" cy="437.75" r="1.65"/><circle cx="746.25" cy="435.25" r="1.65"/><circle cx="748.88" cy="409" r="1.65"/><circle cx="751.5" cy="346.12" r="1.65"/><circle cx="751.5" cy="343" r="1.65"/><circle cx="754.12" cy="419.38" r="1.65"/><circle cx="754.12" cy="413.75" r="1.65"/><circle cx="756.88" cy="426.25" r="1.65"/><circle cx="756.88" cy="412.12" r="1.65"/><circle cx="759.5" cy="429.88" r="1.65"/><circle cx="759.5" cy="415.88" r="1.65"/><circle cx="762.12" cy="461.88" r="1.65"/><circle cx="762.12" cy="445.88" r="1.65"/><circle cx="767.5" cy="444.62" r="1.65"/><circle cx="767.5" cy="433.12" r="1.65"/><circle cx="770.12" cy="463.38" r="1.65"/><circle cx="772.75" cy="463.38" r="1.65"/><circle cx="778.12" cy="430.88" r="1.65"/><circle cx="778.12" cy="415.88" r="1.65"/><circle cx="780.75" cy="414.62" r="1.65"/><circle cx="780.75" cy="400.38" r="1.65"/><circle cx="783.38" cy="402.25" r="1.65"/><circle cx="783.38" cy="376.38" r="1.65"/><circle cx="786" cy="423.75" r="1.65"/><circle cx="786" cy="384.75" r="1.65"/><circle cx="788.62" cy="419.38" r="1.65"/><circle cx="788.62" cy="414.62" r="1.65"/><circle cx="791.25" cy="423.75" r="1.65"/><circle cx="791.25" cy="405.5" r="1.65"/><circle cx="793.88" cy="422.75" r="1.65"/><circle cx="796.5" cy="388.25" r="1.65"/><circle cx="796.5" cy="382.25" r="1.65"/><circle cx="799.25" cy="459.88" r="1.65"/><circle cx="799.25" cy="419.62" r="1.65"/><circle cx="801.88" cy="406.75" r="1.65"/><circle cx="801.88" cy="389.12" r="1.65"/><circle cx="804.5" cy="414.62" r="1.65"/><circle cx="804.5" cy="397" r="1.65"/><circle cx="807.12" cy="463.38" r="1.65"/><circle cx="812.5" cy="424" r="1.65"/><circle cx="812.5" cy="414.88" r="1.65"/><circle cx="815" cy="361.62" r="1.65"/><circle cx="815" cy="331.25" r="1.65"/><circle cx="817.75" cy="397.25" r="1.65"/><circle cx="817.75" cy="370.5" r="1.65"/><circle cx="820.38" cy="419.38" r="1.65"/><circle cx="820.38" cy="405.5" r="1.65"/><circle cx="823" cy="421.5" r="1.65"/><circle cx="823" cy="418.12" r="1.65"/><circle cx="825.62" cy="423" r="1.65"/><circle cx="825.62" cy="411.5" r="1.65"/><circle cx="828.38" cy="429.88" r="1.65"/><circle cx="828.38" cy="426.5" r="1.65"/><circle cx="836.25" cy="389.25" r="1.65"/><circle cx="836.25" cy="355.12" r="1.65"/><circle cx="838.88" cy="463.38" r="1.65"/><circle cx="838.88" cy="432.12" r="1.65"/><circle cx="841.62" cy="416.12" r="1.65"/><circle cx="841.62" cy="412.5" r="1.65"/><circle cx="844.25" cy="344.12" r="1.65"/><circle cx="844.25" cy="316.25" r="1.65"/><circle cx="846.88" cy="374.25" r="1.65"/><circle cx="846.88" cy="370.75" r="1.65"/><circle cx="849.5" cy="326.62" r="1.65"/><circle cx="849.5" cy="312.88" r="1.65"/><circle cx="852.12" cy="413.62" r="1.65"/><circle cx="852.12" cy="405" r="1.65"/><circle cx="854.75" cy="396.12" r="1.65"/><circle cx="854.75" cy="295.38" r="1.65"/><circle cx="857.5" cy="439" r="1.65"/><circle cx="857.5" cy="430.88" r="1.65"/><circle cx="860.12" cy="430.88" r="1.65"/><circle cx="862.75" cy="406.5" r="1.65"/><circle cx="862.75" cy="395.5" r="1.65"/><circle cx="865.38" cy="403.25" r="1.65"/><circle cx="865.38" cy="390.38" r="1.65"/><circle cx="868" cy="405.88" r="1.65"/><circle cx="870.62" cy="453" r="1.65"/><circle cx="870.62" cy="422.75" r="1.65"/><circle cx="873.38" cy="463.38" r="1.65"/><circle cx="876" cy="383.25" r="1.65"/><circle cx="876" cy="374.75" r="1.65"/><circle cx="878.62" cy="400.5" r="1.65"/><circle cx="878.62" cy="391" r="1.65"/><circle cx="881.25" cy="393" r="1.65"/><circle cx="881.25" cy="389.12" r="1.65"/><circle cx="884" cy="433.38" r="1.65"/><circle cx="884" cy="428.62" r="1.65"/><circle cx="886.62" cy="424" r="1.65"/><circle cx="886.62" cy="410" r="1.65"/><circle cx="889.25" cy="437.75" r="1.65"/><circle cx="889.25" cy="424" r="1.65"/><circle cx="891.88" cy="442.5" r="1.65"/><circle cx="891.88" cy="430.88" r="1.65"/><circle cx="894.5" cy="463.38" r="1.65"/><circle cx="897.12" cy="463.38" r="1.65"/><circle cx="899.75" cy="463.38" r="1.65"/><circle cx="899.75" cy="451.88" r="1.65"/><circle cx="902.5" cy="444.62" r="1.65"/><circle cx="902.5" cy="432.12" r="1.65"/><circle cx="905.12" cy="421.88" r="1.65"/><circle cx="905.12" cy="410" r="1.65"/><circle cx="907.75" cy="393.88" r="1.65"/><circle cx="907.75" cy="379.88" r="1.65"/><circle cx="910.38" cy="364.12" r="1.65"/><circle cx="910.38" cy="351" r="1.65"/><circle cx="913.12" cy="366" r="1.65"/><circle cx="913.12" cy="338.12" r="1.65"/><circle cx="915.75" cy="421.5" r="1.65"/><circle cx="915.75" cy="403.25" r="1.65"/><circle cx="918.38" cy="418.38" r="1.65"/><circle cx="918.38" cy="400.5" r="1.65"/><circle cx="921" cy="456.5" r="1.65"/><circle cx="921" cy="442.75" r="1.65"/><circle cx="926.25" cy="410" r="1.65"/><circle cx="926.25" cy="391.62" r="1.65"/><circle cx="928.88" cy="463.38" r="1.65"/><circle cx="928.88" cy="430.88" r="1.65"/><circle cx="931.62" cy="445.88" r="1.65"/><circle cx="931.62" cy="424" r="1.65"/><circle cx="936.88" cy="440.25" r="1.65"/><circle cx="936.88" cy="419.25" r="1.65"/><circle cx="939.5" cy="463.38" r="1.65"/><circle cx="939.5" cy="424" r="1.65"/><circle cx="942.12" cy="367" r="1.65"/><circle cx="942.12" cy="317.5" r="1.65"/><circle cx="944.75" cy="375.12" r="1.65"/><circle cx="944.75" cy="365.75" r="1.65"/><circle cx="947.5" cy="419.38" r="1.65"/><circle cx="947.5" cy="376.38" r="1.65"/><circle cx="950.12" cy="433.38" r="1.65"/><circle cx="950.12" cy="409" r="1.65"/><circle cx="952.75" cy="463.38" r="1.65"/><circle cx="952.75" cy="434.38" r="1.65"/><circle cx="955.38" cy="463.38" r="1.65"/><circle cx="955.38" cy="426.5" r="1.65"/><circle cx="958" cy="463.38" r="1.65"/></g>
<rect x="534.4" y="255.3" width="436.5" height="217.7" fill="none" stroke="#4d4d4d" stroke-width="1.0"/>
<text class="yt" x="525.2" y="467.65" text-anchor="end">0</text>
<text class="yt" x="525.2" y="421.37" text-anchor="end">10</text>
<text class="yt" x="525.2" y="375.09" text-anchor="end">20</text>
<text class="yt" x="525.2" y="328.81" text-anchor="end">30</text>
<text class="yt" x="525.2" y="282.53" text-anchor="end">40</text>
<path d="M530.7 463.5H534.4M530.7 417.22H534.4M530.7 370.94H534.4M530.7 324.66H534.4M530.7 278.38H534.4M534.3 473V477M539.59 473V475.4M544.88 473V475.4M550.17 473V475.4M555.46 473V475.4M560.75 473V477M566.04 473V475.4M571.33 473V475.4M576.62 473V475.4M581.91 473V475.4M587.2 473V477M592.49 473V475.4M597.78 473V475.4M603.07 473V475.4M608.36 473V475.4M613.65 473V477M618.94 473V475.4M624.23 473V475.4M629.52 473V475.4M634.81 473V475.4M640.1 473V477M645.39 473V475.4M650.68 473V475.4M655.97 473V475.4M661.26 473V475.4M666.55 473V477M671.84 473V475.4M677.13 473V475.4M682.42 473V475.4M687.71 473V475.4M693 473V477M698.29 473V475.4M703.58 473V475.4M708.87 473V475.4M714.16 473V475.4M719.45 473V477M724.74 473V475.4M730.03 473V475.4M735.32 473V475.4M740.61 473V475.4M745.9 473V477M751.19 473V475.4M756.48 473V475.4M761.77 473V475.4M767.06 473V475.4M772.35 473V477M777.64 473V475.4M782.93 473V475.4M788.22 473V475.4M793.51 473V475.4M798.8 473V477M804.09 473V475.4M809.38 473V475.4M814.67 473V475.4M819.96 473V475.4M825.25 473V477M830.54 473V475.4M835.83 473V475.4M841.12 473V475.4M846.41 473V475.4M851.7 473V477M856.99 473V475.4M862.28 473V475.4M867.57 473V475.4M872.86 473V475.4M878.15 473V477M883.44 473V475.4M888.73 473V475.4M894.02 473V475.4M899.31 473V475.4M904.6 473V477M909.89 473V475.4M915.18 473V475.4M920.47 473V475.4M925.76 473V475.4M931.05 473V477M936.34 473V475.4M941.63 473V475.4M946.92 473V475.4M952.21 473V475.4M957.5 473V477M962.79 473V475.4M968.08 473V475.4" stroke="#4d4d4d" stroke-width="1.0" fill="none"/>
<text class="tt" transform="translate(572.5,283) scale(0.94,1)">T12</text>
<text class="yl" transform="translate(502.4,363.4) rotate(-90)" text-anchor="middle">Nivel de inundación (cm)</text>
<text class="tl" x="558.1" y="495" text-anchor="middle">2011</text>
<text class="tl" x="592.1" y="495" text-anchor="middle">2012</text>
<text class="tl" x="619" y="495" text-anchor="middle">2013</text>
<text class="tl" x="649" y="495" text-anchor="middle">2014</text>
<text class="tl" x="683.75" y="495" text-anchor="middle">2015</text>
<text class="tl" x="716.75" y="495" text-anchor="middle">2016</text>
<text class="tl" x="744.5" y="495" text-anchor="middle">2017</text>
<text class="tl" x="775.6" y="495" text-anchor="middle">2018</text>
<text class="tl" x="805.6" y="495" text-anchor="middle">2019</text>
<text class="tl" x="837.75" y="495" text-anchor="middle">2020</text>
<text class="tl" x="870.5" y="495" text-anchor="middle">2021</text>
<text class="tl" x="899.4" y="495" text-anchor="middle">2022</text>
<text class="tl" x="925.5" y="495" text-anchor="middle">2023</text>
<text class="tl" x="952.75" y="495.8" text-anchor="middle">2024</text>
</g>
<g id="legend"><path class="dl" d="M873.1 36.3H896"/><g class="mk"><circle cx="884.6" cy="36.3" r="1.65"/></g><text x="902.6" y="40" style="font-size:10.5px;fill:#2a2a2a">Deteriorado</text></g>
</svg>
</body>
</html>
